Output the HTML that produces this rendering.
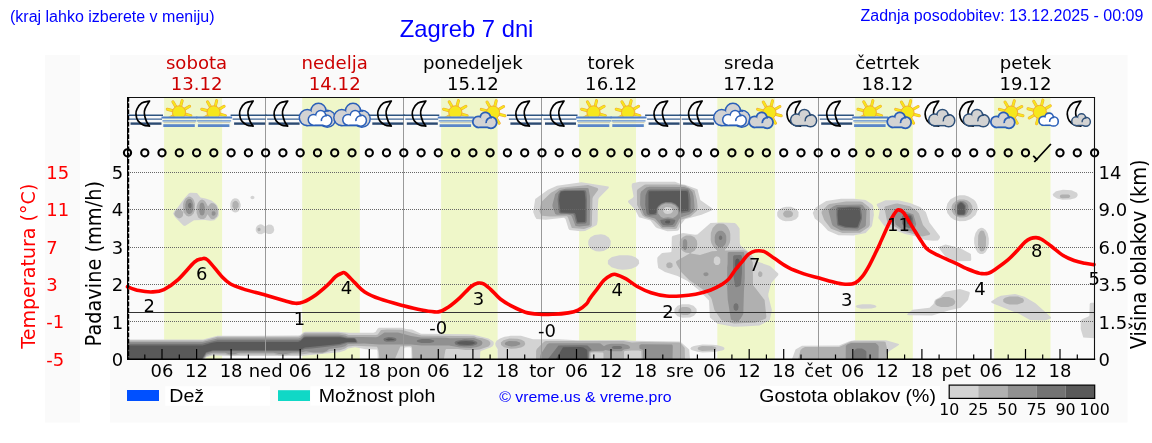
<!DOCTYPE html>
<html><head><meta charset="utf-8"><title>Zagreb 7 dni</title>
<style>
html,body{margin:0;padding:0;background:#fff;}
body{width:1152px;height:443px;overflow:hidden;}
svg{display:block;}
.dv{font-family:"DejaVu Sans","Liberation Sans",sans-serif;}
.ls{font-family:"Liberation Sans",Arial,sans-serif;}
</style></head><body>
<svg width="1152" height="443" viewBox="0 0 1152 443">
<rect x="45" y="55" width="35" height="367.5" fill="#fafafa"/>
<rect x="110" y="55" width="1017.5" height="367.5" fill="#fafafa"/>
<rect x="164.1" y="97.3" width="58.0" height="261.7" fill="#eff7c9"/>
<rect x="302.2" y="97.3" width="57.6" height="261.7" fill="#eff7c9"/>
<rect x="441.1" y="97.3" width="56.5" height="261.7" fill="#eff7c9"/>
<rect x="579.1" y="97.3" width="56.9" height="261.7" fill="#eff7c9"/>
<rect x="717.3" y="97.3" width="57.6" height="261.7" fill="#eff7c9"/>
<rect x="855.1" y="97.3" width="57.7" height="261.7" fill="#eff7c9"/>
<rect x="994.1" y="97.3" width="56.4" height="261.7" fill="#eff7c9"/>
<defs><clipPath id="plotclip"><rect x="127.5" y="97" width="967" height="262"/></clipPath></defs>
<g clip-path="url(#plotclip)"><path d="M674.5,231.1 667.5,231.2 657.0,228.1 655.5,227.0 650.5,220.6 639.0,217.2 635.0,209.4 628.5,202.7 627.9,201.5 628.5,200.5 632.5,197.9 633.6,196.5 631.7,186.5 631.8,184.5 632.5,183.3 639.5,181.8 675.0,181.8 680.7,184.0 685.0,184.7 697.5,189.3 700.3,200.0 712.0,208.3 712.7,209.5 711.6,210.5 701.5,214.7 685.0,219.2 680.9,224.5 678.7,230.0 677.5,230.7 674.5,231.1ZM585.0,231.0 580.5,231.2 569.5,230.0 568.5,228.7 565.5,219.0 564.0,217.8 545.5,219.7 536.5,219.0 534.9,216.5 533.2,212.0 535.2,199.0 548.0,189.8 557.0,185.8 581.5,182.3 608.5,186.6 608.9,187.5 608.5,188.2 599.3,197.5 598.4,199.0 597.8,207.0 597.7,220.5 597.0,224.6 596.0,225.6 585.0,231.0ZM1070.0,199.5 1062.5,199.8 1057.0,198.6 1053.5,196.3 1052.8,195.0 1052.9,194.0 1056.0,191.3 1063.0,189.7 1071.5,190.3 1077.0,192.7 1077.8,195.0 1076.8,197.0 1075.0,198.2 1070.0,199.5ZM185.0,226.0 183.3,225.5 175.0,217.0 173.1,213.5 174.7,210.5 177.6,207.5 184.2,198.5 189.0,193.2 190.5,192.8 197.0,192.9 200.5,197.4 205.5,198.4 211.5,200.5 215.5,203.4 217.3,205.5 218.8,210.0 218.7,215.5 217.9,217.0 214.5,220.3 210.5,220.7 205.0,219.9 194.0,220.3 185.0,226.0ZM965.5,221.1 959.5,221.2 954.5,219.9 950.5,217.2 947.3,213.0 946.3,208.0 947.4,203.5 950.5,199.3 955.5,196.4 959.5,195.3 962.0,195.3 964.5,195.3 968.5,196.4 974.0,199.8 975.6,201.5 977.1,204.5 977.7,207.0 977.7,210.0 975.6,215.0 971.0,219.1 965.5,221.1ZM253.5,199.1 252.0,199.2 250.8,198.5 250.4,197.5 251.0,196.3 252.5,195.7 254.2,196.5 254.5,198.0 253.5,199.1ZM236.0,212.5 234.0,212.3 232.1,211.0 231.0,209.5 230.3,207.0 230.3,203.5 230.9,201.5 232.5,199.3 234.5,198.3 236.9,198.5 238.5,199.6 239.8,201.5 240.7,204.5 240.6,206.5 239.4,210.0 238.1,211.5 236.0,212.5ZM853.5,235.6 838.5,235.2 828.0,230.8 821.5,223.8 814.8,218.5 812.7,213.0 815.7,207.5 826.1,201.0 841.0,198.8 854.0,198.8 865.5,199.9 872.0,204.3 873.2,206.0 873.9,215.0 872.0,226.0 865.7,233.0 853.5,235.6ZM938.0,240.5 933.0,240.7 925.0,240.0 914.6,236.0 905.0,234.0 884.5,226.2 878.3,218.0 879.7,210.5 876.7,205.0 876.8,204.0 885.5,200.3 898.5,200.2 910.0,203.0 920.0,207.0 925.8,212.0 929.4,222.5 940.0,236.5 939.9,238.0 938.0,240.5ZM791.5,221.0 785.5,221.3 782.5,220.5 779.5,218.8 777.8,217.0 777.2,215.5 777.2,212.5 778.2,210.5 782.0,207.8 786.0,206.7 791.0,206.8 796.5,209.2 798.6,212.0 798.4,216.5 796.0,219.2 791.5,221.0ZM737.5,209.7 736.5,209.7 736.4,209.0 737.5,209.0 737.5,209.7ZM668.8,210.5 668.3,209.5 667.1,210.0 667.5,210.7 668.8,210.5ZM743.0,326.6 733.5,326.7 717.5,323.7 709.9,317.5 709.0,300.5 698.5,289.8 687.5,280.9 677.5,275.9 665.0,272.0 658.2,268.0 657.3,261.5 657.3,258.0 657.8,257.0 662.0,253.0 670.5,252.2 671.5,251.5 671.8,237.5 672.4,236.0 683.0,233.1 695.0,234.7 697.4,234.5 710.5,222.9 721.5,222.6 734.9,223.0 736.7,224.5 739.6,228.5 739.8,243.0 740.5,245.2 743.0,247.7 747.5,250.8 758.0,261.7 770.0,266.0 778.3,273.5 778.3,275.0 771.2,283.0 768.3,294.0 768.4,296.5 771.9,310.0 769.8,320.0 759.5,325.6 743.0,326.6ZM271.0,234.1 268.0,234.1 265.0,232.4 261.5,234.3 258.5,233.9 257.0,232.8 255.9,231.0 255.7,229.0 256.3,227.0 257.5,225.4 260.0,224.3 262.0,224.5 265.0,226.4 268.5,224.4 271.5,224.8 273.5,226.6 274.3,230.0 273.3,232.5 271.0,234.1ZM983.0,254.1 980.0,254.1 977.5,252.2 975.3,248.5 974.2,243.5 974.2,238.0 975.5,233.0 978.0,229.2 981.0,227.7 983.0,227.9 985.7,230.0 987.7,233.5 988.8,238.5 988.8,244.0 987.7,248.5 985.5,252.2 983.0,254.1ZM603.5,251.0 599.5,251.5 596.0,251.2 592.1,249.5 590.1,248.0 588.4,245.0 588.2,242.0 588.6,240.0 590.5,237.2 594.5,234.9 601.0,234.2 605.0,235.0 608.8,237.5 610.8,241.0 610.5,245.5 608.0,248.8 603.5,251.0ZM970.5,261.1 956.5,261.3 954.0,260.7 945.0,256.0 939.1,248.5 938.7,247.0 945.5,244.6 960.0,247.9 970.9,254.0 971.3,259.5 970.5,261.1ZM626.5,269.5 622.5,269.8 618.0,269.3 611.5,267.2 607.9,264.0 607.9,260.5 609.5,258.7 612.0,257.1 619.5,255.2 628.0,255.2 631.5,255.8 635.5,257.3 638.8,260.0 639.2,263.5 637.0,266.3 631.5,268.7 626.5,269.5ZM934.0,315.0 932.0,315.5 909.0,315.3 907.5,315.1 907.1,314.5 908.5,312.7 912.5,309.8 929.5,307.8 933.5,304.0 934.4,301.0 935.5,299.5 940.2,297.0 945.5,291.8 960.0,289.0 969.5,292.1 969.8,293.5 968.0,300.1 960.5,307.8 948.7,310.5 934.0,315.0ZM1046.5,320.0 1044.5,320.4 1030.0,320.1 1019.5,314.0 992.5,303.2 991.3,302.5 991.1,301.5 997.5,297.3 1001.0,295.7 1015.0,294.0 1024.5,296.7 1035.5,303.2 1050.8,317.0 1051.1,318.0 1050.6,318.5 1046.5,320.0ZM1094.5,338.2 1083.3,337.5 1080.7,329.0 1080.8,320.5 1082.0,319.3 1088.5,316.4 1089.4,315.5 1089.7,304.0 1090.3,303.0 1091.5,302.7 1094.5,302.7 1094.7,303.5 1094.5,338.2ZM690.0,317.5 682.5,317.8 677.5,316.2 674.4,313.0 674.5,308.9 677.5,305.8 682.0,304.2 689.0,304.2 693.5,305.8 696.6,309.0 696.7,312.5 694.0,315.8 690.0,317.5ZM871.5,308.5 861.5,308.8 857.0,307.8 855.6,306.5 856.0,305.7 857.5,305.0 862.5,304.2 870.5,304.2 874.5,305.0 876.3,306.0 876.3,307.0 875.5,307.6 871.5,308.5ZM480.0,359.1 412.5,359.3 411.6,359.0 411.2,348.0 410.0,347.3 407.0,347.3 405.0,347.5 404.3,348.5 404.2,359.0 379.0,359.3 377.7,359.0 377.5,351.0 376.8,349.5 366.0,349.2 355.0,347.3 348.0,348.5 345.0,350.4 339.5,352.2 300.5,355.9 230.0,356.1 212.5,355.4 206.7,357.0 204.5,359.0 203.0,359.4 127.5,359.4 127.0,359.0 127.1,341.5 127.5,339.5 203.0,339.5 217.5,335.7 298.0,335.6 300.0,335.2 303.5,332.2 305.5,331.7 338.5,331.7 349.5,332.7 373.5,332.7 375.5,332.0 377.5,328.7 379.0,327.8 402.0,327.8 406.0,329.1 412.0,329.5 421.0,333.7 468.0,334.3 474.0,334.8 488.5,338.4 493.0,341.3 493.7,342.5 493.7,344.5 492.5,346.2 490.5,347.6 480.9,351.0 480.3,352.0 480.0,359.1ZM690.0,359.0 670.5,359.4 498.5,359.2 497.8,359.0 497.6,349.0 495.7,346.0 495.2,343.5 496.5,340.8 500.0,338.4 504.5,336.8 510.5,335.8 521.0,335.8 533.0,339.2 558.5,339.3 577.5,340.2 624.0,340.0 632.0,340.7 679.5,341.6 681.0,342.3 689.2,349.5 690.0,359.0ZM886.5,359.2 801.0,359.4 792.0,359.0 795.5,349.5 802.0,345.8 839.0,345.6 849.5,341.2 854.5,340.2 886.0,340.3 899.0,343.9 899.1,344.5 898.1,345.5 888.8,351.5 887.0,355.5 886.5,359.2ZM714.5,352.0 702.5,352.4 697.5,351.8 691.5,350.1 690.3,348.5 691.4,347.0 694.0,346.0 702.5,344.6 712.5,344.7 717.5,345.2 723.0,346.7 724.5,348.0 724.2,349.5 723.0,350.3 714.5,352.0Z" fill="#d3d3d3" fill-rule="evenodd"/>
<path d="M674.5,229.0 662.0,228.5 653.8,220.5 645.0,217.2 642.5,215.5 637.1,205.0 636.9,191.5 637.2,190.0 638.0,189.0 644.5,184.8 646.0,184.5 676.5,184.4 684.9,185.5 694.5,190.5 696.9,200.0 697.6,206.5 697.3,210.5 690.5,216.4 681.0,219.8 676.8,228.0 676.0,228.8 674.5,229.0ZM584.0,229.1 571.8,228.0 568.0,217.5 567.0,216.2 550.0,216.6 542.0,215.7 540.8,214.5 539.4,211.0 541.3,202.0 551.0,192.8 560.0,187.7 588.0,185.0 597.5,188.1 598.2,189.0 598.1,190.0 593.0,197.0 592.5,198.5 591.8,225.5 590.5,226.8 584.0,229.1ZM1069.0,198.1 1062.0,198.3 1060.1,197.5 1059.8,196.0 1060.5,195.1 1062.0,194.5 1068.5,194.6 1070.0,195.5 1070.3,196.5 1069.0,198.1ZM191.0,216.0 188.5,216.4 186.5,215.7 183.7,212.5 183.1,210.0 183.1,204.0 183.8,201.5 185.6,198.5 188.5,196.6 190.5,196.7 192.8,198.5 193.8,200.0 194.9,203.5 194.7,210.5 193.6,213.5 191.0,216.0ZM963.5,217.5 959.5,217.5 956.5,216.6 953.8,214.5 951.7,211.0 951.6,206.5 952.7,204.0 955.5,201.2 959.0,199.6 964.0,199.5 967.0,200.3 970.2,202.5 972.3,206.0 972.3,211.0 970.6,214.0 967.0,216.7 963.5,217.5ZM214.0,219.1 212.0,219.2 210.5,218.6 207.5,214.3 205.8,217.5 203.9,219.0 200.5,219.1 198.2,217.5 196.6,213.0 196.6,206.5 197.8,203.0 200.0,200.3 202.0,199.6 204.0,200.3 205.6,202.0 208.0,206.6 209.9,204.0 211.5,202.9 214.0,203.4 216.3,205.5 217.8,209.5 217.9,214.0 216.9,216.5 214.0,219.1ZM236.5,209.1 234.0,208.9 232.3,206.5 232.7,202.5 235.0,200.8 237.0,201.2 238.7,203.5 238.5,207.0 236.5,209.1ZM860.0,232.7 842.5,232.9 831.0,228.7 824.2,220.0 821.6,213.0 821.9,211.0 827.5,205.2 829.5,204.1 846.0,201.6 860.5,201.6 862.5,202.0 868.9,207.0 869.9,208.5 869.9,225.0 868.5,227.2 860.0,232.7ZM922.5,236.6 903.0,231.2 888.0,222.8 887.1,221.5 884.7,209.5 884.5,207.5 885.0,206.5 895.0,203.7 897.5,203.4 910.0,206.2 917.0,211.3 919.0,213.5 923.0,225.0 930.2,233.5 929.9,234.5 929.0,235.0 922.5,236.6ZM670.8,213.5 672.5,212.0 672.9,210.5 672.5,209.0 670.8,207.5 666.5,207.1 665.0,207.6 663.5,209.0 663.3,211.5 665.0,213.4 667.5,213.9 670.8,213.5ZM180.5,218.0 179.0,218.4 177.0,217.6 175.2,216.0 174.2,214.0 175.4,211.0 178.0,209.3 181.0,209.7 183.2,212.0 183.0,215.5 182.1,217.0 180.5,218.0ZM789.0,217.5 786.0,217.4 783.7,216.0 783.0,213.5 784.5,211.3 786.0,210.6 789.0,210.5 790.5,210.7 792.3,212.0 793.0,213.5 792.7,215.5 791.5,216.7 789.0,217.5ZM745.5,323.0 734.0,323.4 721.5,320.2 714.4,310.0 711.6,299.0 710.5,297.1 704.4,290.5 689.1,280.0 681.6,272.5 676.7,264.5 675.9,262.0 677.0,260.7 689.6,253.5 689.4,253.0 686.0,252.7 683.5,251.5 681.7,250.0 680.2,247.5 679.7,245.5 679.8,241.5 681.4,238.5 683.0,236.9 686.0,235.4 691.0,235.5 694.5,237.3 696.8,240.5 697.3,244.0 696.8,247.5 694.5,250.7 690.5,253.0 691.0,253.5 700.0,255.1 712.0,251.3 716.9,251.0 717.1,250.5 713.1,246.5 711.3,243.0 710.7,240.0 710.8,233.0 712.7,228.0 716.0,224.5 718.5,223.6 723.5,223.8 726.0,225.3 727.9,227.5 729.7,231.0 730.3,234.0 730.3,240.0 729.7,243.0 727.9,246.5 724.7,250.0 725.0,250.5 743.5,250.2 746.2,251.0 747.7,252.5 749.9,256.0 752.8,262.5 753.0,285.0 764.6,300.0 766.4,317.0 765.5,318.7 755.0,322.7 745.5,323.0ZM260.0,231.0 258.5,231.2 257.6,230.5 257.4,229.0 258.0,228.1 259.5,227.8 260.5,228.5 260.7,230.0 260.0,231.0ZM983.5,251.1 981.5,251.5 980.0,250.7 978.0,245.0 978.2,235.5 979.8,231.5 981.5,230.5 983.0,230.7 984.1,231.5 986.0,237.0 985.9,246.0 984.7,249.5 983.5,251.1ZM718.3,265.0 720.2,263.0 720.3,259.0 719.0,257.0 716.5,256.2 715.0,257.0 713.9,258.5 713.7,262.5 715.7,265.0 718.3,265.0ZM671.0,268.0 668.5,268.2 666.6,267.0 666.2,264.5 667.5,262.7 670.0,262.2 672.4,263.5 672.7,266.5 671.0,268.0ZM761.0,277.1 759.5,277.1 758.1,275.5 758.1,273.0 759.5,271.2 761.0,271.4 762.4,273.0 762.3,275.5 761.0,277.1ZM1017.5,304.5 1009.5,304.5 1006.0,303.6 1003.4,302.0 1003.1,299.5 1005.0,297.7 1009.5,296.5 1018.0,296.6 1023.1,298.5 1024.0,300.5 1023.2,302.5 1017.5,304.5ZM948.0,307.0 941.0,307.0 937.0,305.8 935.2,304.0 935.4,301.0 937.0,299.5 943.0,297.0 949.0,297.1 953.5,298.8 955.4,301.5 954.7,304.0 952.5,305.8 948.0,307.0ZM687.5,315.1 683.0,315.1 680.5,314.3 678.6,312.0 678.5,310.5 679.1,309.0 680.5,307.7 682.5,306.9 687.0,306.9 689.5,307.7 691.2,309.5 691.4,312.0 690.0,313.9 687.5,315.1ZM443.5,359.1 412.5,359.0 412.0,347.2 411.0,346.1 408.5,345.9 400.3,346.5 394.9,359.0 379.5,359.1 378.4,350.0 377.0,346.7 355.0,345.8 348.0,346.4 345.0,348.6 340.0,350.3 330.5,351.0 322.5,353.4 313.5,353.6 310.0,353.2 300.5,354.5 291.5,354.4 286.0,355.3 279.0,355.2 274.0,354.4 240.5,354.4 235.0,355.3 230.0,355.3 225.0,354.4 212.5,354.2 206.5,356.0 204.0,359.0 202.5,359.4 127.5,359.4 127.1,359.0 127.2,342.5 127.5,340.4 203.5,340.4 217.5,336.8 298.5,336.7 300.5,336.0 304.0,333.1 305.5,332.8 338.5,332.8 345.5,333.7 348.5,335.1 376.0,335.1 377.7,334.5 381.0,329.9 387.0,329.6 401.5,329.7 421.5,335.6 474.0,336.2 477.0,337.4 482.5,338.3 487.0,339.7 489.0,340.8 490.3,342.5 490.3,344.5 488.5,346.5 479.5,349.4 475.0,349.9 465.5,350.0 458.0,349.0 446.2,349.0 445.4,350.0 443.9,359.0 443.5,359.1ZM516.0,348.6 511.0,348.8 504.0,347.3 501.1,345.0 500.8,342.5 503.5,340.2 509.5,338.6 517.5,338.8 521.5,339.7 524.5,341.5 525.3,344.0 524.0,346.1 521.0,347.6 516.0,348.6ZM684.5,359.1 642.5,359.2 641.7,359.0 641.3,351.0 638.5,350.5 631.5,350.5 624.5,351.0 624.0,352.0 624.0,359.0 623.0,359.1 603.5,359.0 603.5,353.5 603.1,352.5 595.0,352.3 591.2,352.5 590.6,353.0 590.5,359.0 589.0,359.3 537.5,359.2 536.0,359.0 536.1,351.0 536.8,349.0 542.7,343.0 544.5,341.5 546.0,341.1 623.5,341.0 632.0,342.6 642.0,342.1 679.0,342.5 680.5,343.0 684.7,348.0 685.0,359.0 684.5,359.1ZM885.5,359.1 798.3,359.0 800.5,350.0 802.5,348.2 805.0,347.0 839.0,346.9 851.0,341.6 874.0,341.3 884.0,341.4 885.5,342.1 887.4,350.0 886.1,355.5 886.0,359.0 885.5,359.1ZM713.5,350.6 702.0,350.9 698.6,350.0 697.6,348.5 698.6,347.0 702.0,346.1 712.5,346.2 715.4,347.0 716.3,348.0 716.0,349.5 713.5,350.6Z" fill="#b0b0b0" fill-rule="evenodd"/>
<path d="M674.0,227.1 662.5,227.0 655.0,218.5 645.5,216.0 643.9,214.5 640.1,205.0 640.3,194.0 641.2,191.5 646.1,187.5 649.5,186.8 684.0,186.9 689.0,188.5 692.4,192.0 693.6,196.0 694.5,206.0 694.4,209.0 693.4,211.5 689.5,214.5 680.5,217.6 678.9,219.5 675.4,226.0 674.0,227.1ZM584.0,226.0 579.5,226.5 575.5,226.0 571.9,216.5 571.0,215.2 567.0,214.6 557.0,214.7 555.3,214.0 552.6,207.0 552.4,205.0 555.2,194.0 559.5,190.3 565.5,188.8 580.0,188.0 587.5,188.0 588.5,188.5 590.1,196.5 589.8,224.0 589.5,225.0 588.5,225.6 584.0,226.0ZM190.0,214.1 188.5,214.0 186.7,212.5 185.3,208.0 185.4,204.5 186.1,201.5 187.5,199.6 189.0,198.9 190.5,199.1 192.0,200.5 193.4,205.0 193.3,208.5 192.5,211.5 191.5,213.1 190.0,214.1ZM964.0,216.1 960.0,216.2 957.0,215.5 955.8,214.0 954.7,211.0 954.6,206.5 955.3,204.5 957.5,202.1 960.0,200.9 962.9,201.0 965.0,201.7 967.1,203.5 968.3,206.0 968.1,211.5 966.1,215.0 964.0,216.1ZM202.5,215.6 201.0,215.3 200.1,214.5 199.2,211.5 199.6,205.0 200.5,203.2 202.0,202.4 203.7,203.5 204.8,207.0 204.6,212.5 203.9,214.5 202.5,215.6ZM672.9,218.0 675.5,216.5 677.5,214.5 678.1,213.0 677.6,208.5 675.0,205.5 671.0,203.7 665.5,203.6 661.7,205.0 659.0,207.5 658.1,209.5 658.2,213.5 661.0,217.0 663.5,218.0 668.0,217.2 672.9,218.0ZM858.0,230.7 841.0,230.6 833.5,226.3 832.3,225.0 831.8,223.5 828.7,211.5 828.8,209.5 833.5,206.2 836.5,204.9 861.0,204.5 862.5,204.9 866.5,210.0 865.8,225.5 864.6,227.0 858.0,230.7ZM214.5,215.6 213.0,215.8 211.8,215.0 211.7,212.5 212.5,211.3 214.5,211.3 215.5,212.5 215.7,214.0 214.5,215.6ZM912.5,231.5 903.0,229.9 895.6,224.5 893.4,214.5 893.8,212.5 895.5,211.9 905.0,211.3 913.4,214.5 916.2,224.0 914.3,230.0 913.5,231.2 912.5,231.5ZM722.5,247.1 719.5,247.3 718.0,246.8 715.8,244.5 714.8,242.0 714.7,237.0 715.3,234.5 717.0,232.1 719.0,230.8 721.5,230.7 723.0,231.2 725.2,233.5 726.2,236.0 726.3,240.5 725.8,243.0 724.8,245.0 722.5,247.1ZM685.5,250.2 684.5,250.0 683.5,249.1 682.7,246.5 682.9,241.0 683.8,239.5 685.0,238.9 686.7,240.0 687.3,242.5 687.1,248.0 685.5,250.2ZM738.0,321.5 734.1,321.0 730.9,319.5 727.7,299.5 727.2,288.5 727.2,267.5 727.6,264.0 727.7,253.5 727.9,252.5 729.0,251.9 742.5,251.9 743.5,252.0 744.3,253.0 744.8,262.5 744.8,278.5 743.9,292.0 743.3,314.0 740.7,318.5 738.0,321.5ZM707.0,276.1 705.5,276.2 703.9,275.5 703.3,274.0 704.0,272.8 706.5,272.2 708.2,273.0 708.5,275.0 707.0,276.1ZM203.0,359.1 127.5,359.2 127.5,341.9 202.5,341.9 217.5,338.4 298.5,338.4 300.5,337.7 304.0,334.7 305.5,334.4 338.5,334.4 345.0,335.5 348.0,336.7 376.0,337.2 378.0,336.7 384.5,332.6 398.0,332.5 411.0,335.9 421.0,337.4 446.0,337.7 450.0,338.2 474.0,338.1 481.0,340.6 482.0,341.5 482.5,343.0 481.6,345.0 479.5,346.2 476.0,347.3 471.0,347.9 460.0,347.6 449.0,345.5 421.5,345.5 411.0,344.5 379.5,344.5 364.5,343.4 348.0,343.9 345.0,346.2 341.5,347.2 329.0,348.9 326.5,351.2 322.5,352.4 313.5,352.5 306.0,351.2 300.5,352.6 292.0,352.7 286.0,354.1 279.0,354.0 273.5,352.7 240.0,352.7 238.0,352.9 235.5,354.1 233.0,354.3 229.0,354.2 225.0,352.7 212.5,352.7 206.5,354.5 203.0,359.1ZM516.0,346.1 511.5,346.4 508.6,346.0 505.5,345.0 504.7,343.5 505.9,342.0 509.0,341.1 516.5,341.2 519.8,342.5 520.3,343.5 520.0,344.5 516.0,346.1ZM878.5,359.0 845.7,359.0 845.8,346.0 847.2,344.5 851.0,342.9 875.6,343.0 877.9,345.0 878.7,346.5 878.5,359.0ZM589.0,359.1 541.0,359.1 540.2,359.0 540.2,356.0 540.9,354.0 547.0,344.5 549.0,343.3 599.0,343.2 600.5,343.6 604.0,346.2 606.5,344.8 611.0,343.7 622.5,343.7 628.0,345.0 630.1,347.0 630.0,348.0 629.0,348.8 624.0,349.5 621.5,351.3 611.5,351.3 605.5,349.9 603.5,350.8 594.0,350.9 590.5,351.4 589.4,352.5 589.0,359.1ZM672.5,359.0 643.1,359.0 642.9,350.5 642.5,349.8 639.4,348.5 639.3,345.5 640.0,344.7 641.5,344.3 671.8,344.5 672.5,345.1 672.8,346.5 672.5,359.0Z" fill="#909090" fill-rule="evenodd"/>
<path d="M585.0,223.6 577.0,223.7 576.1,222.5 574.2,215.0 572.9,214.0 560.5,213.5 558.9,212.5 557.6,199.5 558.4,194.5 560.5,191.0 564.5,190.2 583.5,190.0 585.6,190.5 586.3,192.0 586.9,199.5 586.8,221.0 586.2,223.0 585.0,223.6ZM656.5,215.1 649.5,215.4 647.3,214.5 646.6,213.5 645.2,205.0 645.5,195.5 647.0,191.5 648.0,190.1 650.0,189.5 685.5,189.5 687.5,189.6 688.5,190.2 689.8,194.0 690.5,199.0 690.5,210.0 689.8,211.5 688.0,212.3 680.5,213.5 679.2,211.5 678.3,207.5 675.4,204.5 671.0,202.7 665.5,202.6 661.0,204.2 658.0,207.1 657.2,209.0 656.5,215.1ZM964.0,215.1 958.0,215.0 956.8,213.5 956.2,210.0 956.5,205.5 958.6,203.0 960.5,201.8 963.1,202.5 965.8,205.5 965.8,212.5 965.0,214.5 964.0,215.1ZM190.5,208.2 189.0,208.1 187.9,206.0 188.2,204.0 189.5,202.7 190.8,203.0 191.6,204.5 191.5,206.9 190.5,208.2ZM856.0,228.5 845.0,227.9 837.5,225.4 837.0,224.0 836.4,215.0 836.4,208.5 836.9,207.5 838.5,207.0 850.0,206.6 859.0,206.6 860.6,207.0 862.0,215.5 861.9,219.0 858.8,227.5 857.5,228.4 856.0,228.5ZM911.0,227.7 909.0,227.9 905.0,227.0 902.6,224.5 902.0,223.5 902.0,216.0 905.1,214.5 907.5,214.1 910.0,214.6 912.0,215.8 912.9,218.0 913.4,223.5 912.5,225.9 911.0,227.7ZM672.5,225.0 667.5,225.4 663.0,225.0 661.0,222.7 660.2,220.0 667.5,218.7 675.0,219.8 675.4,220.5 674.5,223.0 672.5,225.0ZM721.0,240.0 719.5,239.7 718.7,238.0 719.4,236.0 720.5,235.4 721.6,236.0 722.3,237.5 722.1,239.0 721.0,240.0ZM737.0,287.1 736.0,287.2 735.2,286.5 733.1,274.0 733.1,256.5 734.0,255.2 740.5,255.1 741.5,255.5 741.9,257.0 741.9,273.5 740.9,284.5 740.0,286.0 737.0,287.1ZM736.0,311.0 734.0,309.8 733.4,307.0 734.0,304.2 736.0,303.0 738.0,304.2 738.6,307.0 738.0,309.8 736.0,311.0ZM202.5,359.1 127.5,359.1 127.5,343.8 202.0,343.8 217.5,340.3 298.5,340.3 300.5,339.7 304.0,336.5 306.0,336.2 340.5,336.3 347.5,337.7 354.5,337.9 355.6,338.5 357.4,341.5 357.2,342.5 356.5,342.7 347.5,342.8 339.5,345.2 312.0,348.6 305.0,348.9 299.0,351.2 212.5,351.3 206.5,353.0 202.5,359.1ZM394.0,341.6 386.5,341.7 384.3,341.0 383.4,339.5 384.0,338.3 385.5,337.7 388.5,337.1 392.5,337.3 395.4,338.0 396.5,339.0 396.0,340.8 394.0,341.6ZM430.0,343.0 421.5,343.1 417.5,342.0 416.7,341.0 417.5,340.0 422.0,339.0 429.1,339.0 434.2,340.5 434.2,341.5 433.5,342.0 430.0,343.0ZM470.0,346.0 464.5,346.3 459.0,345.8 455.3,344.5 454.5,342.5 455.2,341.5 457.0,340.7 464.5,339.6 473.0,340.1 477.2,342.0 477.4,343.5 476.5,344.6 473.0,345.8 470.0,346.0ZM588.0,359.1 548.0,359.0 558.5,345.5 581.5,345.3 587.5,345.5 591.5,349.5 591.4,350.0 588.7,351.5 588.4,359.0 588.0,359.1ZM620.0,349.0 614.0,349.0 612.5,348.5 611.7,347.5 612.5,346.5 614.0,346.0 620.0,346.0 621.5,346.5 622.3,347.5 621.5,348.5 620.0,349.0ZM866.0,359.0 853.6,359.0 854.0,350.9 855.5,349.3 857.0,348.6 862.0,348.6 864.0,349.4 866.0,351.0 866.4,352.0 866.4,359.0 866.0,359.0Z" fill="#737373" fill-rule="evenodd"/>
<path d="M654.0,214.0 650.0,214.1 649.0,213.0 648.5,207.5 648.5,192.5 649.0,191.2 685.5,191.0 687.7,191.5 688.5,200.0 688.5,209.5 688.0,210.8 680.5,211.4 679.9,211.0 678.7,207.0 675.5,203.8 671.5,202.1 665.5,202.0 661.5,203.2 658.1,206.0 656.6,208.5 656.2,213.0 654.0,214.0ZM585.0,222.1 577.5,222.2 575.4,214.0 574.5,213.1 560.5,212.5 559.0,200.0 559.8,194.0 561.0,191.6 564.5,191.1 583.0,191.1 584.6,191.5 585.5,200.0 585.4,220.5 585.0,222.1ZM963.5,214.5 958.8,214.5 957.5,213.5 957.3,206.0 959.3,203.5 961.0,202.5 962.7,203.5 964.8,206.0 964.8,213.0 964.4,214.0 963.5,214.5ZM857.5,227.1 855.0,227.4 845.5,226.8 838.5,224.5 837.6,215.0 837.9,208.5 850.0,207.6 859.5,207.9 860.8,218.0 857.5,227.1ZM909.5,224.5 907.5,224.0 906.4,221.5 906.6,217.5 907.5,216.0 908.5,215.5 910.5,216.1 911.6,218.5 911.4,222.5 910.5,224.0 909.5,224.5ZM669.0,223.5 666.0,223.3 665.2,222.5 665.1,221.5 666.5,220.4 669.5,220.6 670.5,222.0 669.0,223.5ZM738.0,269.5 737.0,269.5 736.0,268.8 735.1,266.0 735.3,260.5 736.2,259.0 737.5,258.4 739.2,259.5 739.9,262.0 739.7,267.5 738.0,269.5ZM202.0,359.0 127.5,359.1 127.5,345.5 202.5,345.4 212.0,342.7 217.0,342.0 298.0,341.9 300.5,341.1 304.0,337.6 306.0,337.3 340.5,337.3 347.0,338.4 354.0,338.5 355.0,339.1 356.3,341.5 355.5,342.0 347.0,342.1 339.0,343.9 305.0,347.5 299.0,350.2 213.0,350.3 206.0,352.3 202.0,359.0ZM394.0,340.1 388.0,340.5 385.3,339.5 388.5,338.6 391.0,338.5 394.7,339.5 394.0,340.1ZM468.0,345.0 459.6,344.5 456.4,343.0 459.5,341.5 466.0,340.9 472.5,341.5 475.6,343.0 472.5,344.5 468.0,345.0ZM587.0,359.0 556.1,359.0 563.0,347.3 580.5,347.0 583.5,347.4 587.2,350.0 587.4,359.0 587.0,359.0Z" fill="#595959" fill-rule="evenodd"/></g>
<line x1="128" y1="321.5" x2="1094" y2="321.5" stroke="#666" stroke-width="1" stroke-dasharray="1 1"/>
<line x1="128" y1="284.5" x2="1094" y2="284.5" stroke="#666" stroke-width="1" stroke-dasharray="1 1"/>
<line x1="128" y1="247.5" x2="1094" y2="247.5" stroke="#666" stroke-width="1" stroke-dasharray="1 1"/>
<line x1="128" y1="209.5" x2="1094" y2="209.5" stroke="#666" stroke-width="1" stroke-dasharray="1 1"/>
<line x1="128" y1="172.5" x2="1094" y2="172.5" stroke="#666" stroke-width="1" stroke-dasharray="1 1"/>
<line x1="265.5" y1="97.3" x2="265.5" y2="359.0" stroke="#999" stroke-width="1"/>
<line x1="403.5" y1="97.3" x2="403.5" y2="359.0" stroke="#999" stroke-width="1"/>
<line x1="541.5" y1="97.3" x2="541.5" y2="359.0" stroke="#999" stroke-width="1"/>
<line x1="680.5" y1="97.3" x2="680.5" y2="359.0" stroke="#999" stroke-width="1"/>
<line x1="818.5" y1="97.3" x2="818.5" y2="359.0" stroke="#999" stroke-width="1"/>
<line x1="956.5" y1="97.3" x2="956.5" y2="359.0" stroke="#999" stroke-width="1"/>
<line x1="127.5" y1="312.5" x2="1094.5500000000002" y2="312.5" stroke="#333" stroke-width="1.1"/>
<path d="M127.5,286.7 C129.4,287.4 134.7,289.7 138.9,290.6 C143.1,291.5 148.6,292.1 152.8,291.9 C157.0,291.7 159.7,291.6 163.9,289.6 C168.1,287.6 172.7,284.5 177.8,279.9 C182.9,275.3 190.5,265.7 194.4,262.2 C198.3,258.7 199.2,259.4 201.4,259.0 C203.6,258.6 204.1,257.0 207.6,260.0 C211.1,263.0 218.4,273.1 222.2,277.1 C226.0,281.1 227.1,282.0 230.6,284.0 C234.1,286.0 237.2,287.0 243.0,288.9 C248.8,290.8 258.4,293.1 265.3,295.1 C272.2,297.1 279.7,299.3 284.7,300.7 C289.7,302.1 292.1,303.1 295.3,303.3 C298.5,303.5 300.1,303.3 303.6,301.9 C307.1,300.5 312.2,297.4 316.1,294.7 C320.0,291.9 323.9,288.4 327.2,285.4 C330.4,282.4 333.3,278.7 335.6,276.7 C337.9,274.7 339.5,274.1 341.1,273.5 C342.7,272.9 343.0,271.6 345.3,273.2 C347.6,274.8 351.8,279.8 355.0,282.9 C358.2,286.0 360.5,289.2 364.7,291.9 C368.9,294.6 373.5,296.6 380.0,298.9 C386.5,301.2 396.7,303.9 403.6,305.8 C410.6,307.7 415.9,309.0 421.7,310.0 C427.5,311.0 433.8,312.4 438.3,311.9 C442.8,311.3 445.3,309.1 448.9,306.7 C452.5,304.3 456.3,301.0 460.0,297.6 C463.7,294.2 468.1,288.9 471.1,286.5 C474.1,284.1 476.0,283.6 478.1,283.1 C480.2,282.7 481.5,282.8 483.6,283.8 C485.7,284.8 487.8,286.8 490.6,289.3 C493.4,291.8 496.6,296.1 500.3,299.0 C504.0,301.9 508.6,304.5 512.8,306.7 C517.0,308.9 520.9,310.9 525.3,312.2 C529.7,313.5 534.6,313.9 539.2,314.3 C543.8,314.7 548.1,314.5 553.0,314.3 C557.9,314.1 564.1,313.6 568.3,312.9 C572.5,312.2 575.1,311.6 578.1,310.1 C581.1,308.6 584.4,305.9 586.4,303.9 C588.4,301.9 588.2,300.7 590.0,298.3 C591.8,295.9 594.6,292.3 596.9,289.3 C599.2,286.3 601.6,282.6 603.9,280.3 C606.2,278.0 608.8,276.4 610.8,275.4 C612.8,274.4 613.2,273.8 615.7,274.4 C618.2,275.0 622.5,276.9 626.1,278.9 C629.7,280.9 633.0,284.2 637.2,286.5 C641.4,288.8 646.2,291.2 651.1,292.8 C656.0,294.4 661.5,295.5 666.4,296.0 C671.3,296.5 675.4,296.3 680.3,296.0 C685.2,295.7 690.5,295.2 695.6,294.2 C700.7,293.2 706.4,291.6 710.8,290.0 C715.2,288.4 718.9,286.2 721.9,284.4 C724.9,282.5 726.6,281.4 728.9,278.9 C731.2,276.4 733.5,272.2 735.8,269.2 C738.1,266.2 740.7,263.3 742.8,260.8 C744.9,258.3 746.2,256.0 748.3,254.4 C750.4,252.8 752.6,251.4 755.3,251.0 C758.0,250.6 761.1,250.4 764.3,251.7 C767.5,253.0 770.7,256.0 774.7,258.6 C778.8,261.2 783.7,265.1 788.6,267.6 C793.5,270.2 798.8,272.1 803.9,273.9 C809.0,275.6 813.7,276.6 819.2,278.1 C824.8,279.6 832.6,281.9 837.2,282.9 C841.8,283.9 843.9,284.3 846.9,284.3 C849.9,284.3 852.8,284.2 855.3,282.9 C857.8,281.6 859.9,279.6 862.2,276.7 C864.5,273.8 866.9,269.8 869.2,265.6 C871.5,261.4 874.3,255.4 876.1,251.7 C877.9,248.0 877.9,248.1 880.0,243.4 C882.1,238.7 886.6,228.5 889.0,223.5 C891.4,218.5 893.0,215.9 894.5,213.6 C896.0,211.3 896.6,210.1 898.1,209.9 C899.6,209.8 901.1,209.8 903.5,212.7 C905.9,215.6 909.5,222.3 912.5,227.1 C915.5,231.9 919.0,237.8 921.6,241.6 C924.2,245.4 924.9,247.3 927.9,249.7 C930.9,252.1 934.9,253.7 939.6,256.0 C944.3,258.3 951.4,261.2 955.9,263.3 C960.4,265.4 962.9,267.1 966.8,268.7 C970.7,270.3 975.8,272.4 979.4,273.2 C983.0,273.9 985.5,274.0 988.4,273.2 C991.3,272.4 993.6,270.5 996.8,268.3 C1000.0,266.1 1004.2,263.1 1007.6,260.2 C1011.0,257.3 1014.2,253.8 1017.1,250.7 C1020.0,247.6 1023.0,243.9 1025.2,241.9 C1027.5,239.9 1028.8,239.2 1030.6,238.5 C1032.4,237.8 1034.3,237.5 1036.1,237.6 C1037.9,237.7 1039.0,237.8 1041.5,239.2 C1044.0,240.6 1047.4,243.3 1051.0,246.0 C1054.6,248.7 1059.4,253.1 1063.2,255.5 C1067.0,257.9 1070.4,259.2 1074.0,260.5 C1077.6,261.8 1081.5,262.6 1084.8,263.3 C1088.1,264.0 1092.5,264.4 1094.0,264.6" fill="none" stroke="#ff0000" stroke-width="3.6" stroke-linejoin="round" stroke-linecap="round"/>
<text transform="translate(149.20,311.80) scale(1.06,1)" class="dv" font-size="17" text-anchor="middle" fill="#000">2</text>
<text transform="translate(201.70,280.30) scale(1.06,1)" class="dv" font-size="17" text-anchor="middle" fill="#000">6</text>
<text transform="translate(299.40,324.60) scale(1.06,1)" class="dv" font-size="17" text-anchor="middle" fill="#000">1</text>
<text transform="translate(346.50,294.10) scale(1.06,1)" class="dv" font-size="17" text-anchor="middle" fill="#000">4</text>
<text transform="translate(438.30,334.00) scale(1.06,1)" class="dv" font-size="17" text-anchor="middle" fill="#000">-0</text>
<text transform="translate(478.50,304.50) scale(1.06,1)" class="dv" font-size="17" text-anchor="middle" fill="#000">3</text>
<text transform="translate(547.00,336.70) scale(1.06,1)" class="dv" font-size="17" text-anchor="middle" fill="#000">-0</text>
<text transform="translate(617.30,296.00) scale(1.06,1)" class="dv" font-size="17" text-anchor="middle" fill="#000">4</text>
<text transform="translate(668.00,318.30) scale(1.06,1)" class="dv" font-size="17" text-anchor="middle" fill="#000">2</text>
<text transform="translate(754.80,271.30) scale(1.06,1)" class="dv" font-size="17" text-anchor="middle" fill="#000">7</text>
<text transform="translate(846.70,306.00) scale(1.06,1)" class="dv" font-size="17" text-anchor="middle" fill="#000">3</text>
<text transform="translate(898.40,231.40) scale(1.06,1)" class="dv" font-size="17" text-anchor="middle" fill="#000">11</text>
<text transform="translate(979.90,295.40) scale(1.06,1)" class="dv" font-size="17" text-anchor="middle" fill="#000">4</text>
<text transform="translate(1036.60,257.40) scale(1.06,1)" class="dv" font-size="17" text-anchor="middle" fill="#000">8</text>
<text transform="translate(1094.10,284.90) scale(1.06,1)" class="dv" font-size="17" text-anchor="middle" fill="#000">5</text>
<defs><clipPath id="sunclip"><rect x="0" y="90" width="1152" height="26.8"/></clipPath></defs>
<line x1="127.0" y1="115.3" x2="163.0" y2="115.3" stroke="#2e5480" stroke-width="1.5"/><line x1="129.0" y1="119.1" x2="162.0" y2="119.1" stroke="#3d6595" stroke-width="1.1"/><line x1="130.5" y1="123.6" x2="161.5" y2="123.6" stroke="#2b4a72" stroke-width="2.4"/>
<path d="M149.55,101.10 C148.25,101.42 143.82,101.72 141.75,103.00 C139.68,104.28 138.07,106.95 137.10,108.80 C136.13,110.65 135.81,112.10 135.95,114.10 C136.09,116.10 136.73,119.00 137.95,120.80 C139.17,122.60 141.32,124.02 143.25,124.90 C145.18,125.78 148.50,125.90 149.55,126.10 C149.05,125.35 147.41,123.60 146.55,121.60 C145.69,119.60 144.65,116.22 144.40,114.10 C144.15,111.98 144.19,111.07 145.05,108.90 C145.91,106.73 148.80,102.40 149.55,101.10Z" fill="none" stroke="#000" stroke-width="1.7" stroke-linejoin="round"/>
<g clip-path="url(#sunclip)"><line x1="184.9" y1="114.0" x2="190.8" y2="115.6" stroke="#f2a531" stroke-width="3.0" stroke-linecap="round"/><line x1="184.3" y1="109.4" x2="189.6" y2="106.3" stroke="#f2a531" stroke-width="3.0" stroke-linecap="round"/><line x1="180.6" y1="106.5" x2="182.2" y2="100.6" stroke="#f2a531" stroke-width="3.0" stroke-linecap="round"/><line x1="176.0" y1="107.1" x2="172.9" y2="101.8" stroke="#f2a531" stroke-width="3.0" stroke-linecap="round"/><line x1="173.1" y1="110.8" x2="167.3" y2="109.2" stroke="#f2a531" stroke-width="3.0" stroke-linecap="round"/><line x1="173.8" y1="115.5" x2="168.5" y2="118.5" stroke="#f2a531" stroke-width="3.0" stroke-linecap="round"/><line x1="177.5" y1="118.3" x2="175.9" y2="124.2" stroke="#f2a531" stroke-width="3.0" stroke-linecap="round"/><line x1="182.1" y1="117.7" x2="185.1" y2="123.0" stroke="#f2a531" stroke-width="3.0" stroke-linecap="round"/><line x1="184.9" y1="114.0" x2="190.8" y2="115.6" stroke="#f6e71c" stroke-width="2.0" stroke-linecap="round"/><line x1="184.3" y1="109.4" x2="189.6" y2="106.3" stroke="#f6e71c" stroke-width="2.0" stroke-linecap="round"/><line x1="180.6" y1="106.5" x2="182.2" y2="100.6" stroke="#f6e71c" stroke-width="2.0" stroke-linecap="round"/><line x1="176.0" y1="107.1" x2="172.9" y2="101.8" stroke="#f6e71c" stroke-width="2.0" stroke-linecap="round"/><line x1="173.1" y1="110.8" x2="167.3" y2="109.2" stroke="#f6e71c" stroke-width="2.0" stroke-linecap="round"/><line x1="173.8" y1="115.5" x2="168.5" y2="118.5" stroke="#f6e71c" stroke-width="2.0" stroke-linecap="round"/><line x1="177.5" y1="118.3" x2="175.9" y2="124.2" stroke="#f6e71c" stroke-width="2.0" stroke-linecap="round"/><line x1="182.1" y1="117.7" x2="185.1" y2="123.0" stroke="#f6e71c" stroke-width="2.0" stroke-linecap="round"/><circle cx="179.0" cy="112.4" r="6.6" fill="#f6e71c" stroke="#f2a531" stroke-width="0.9"/></g>
<rect x="162.0" y="116.6" width="34.6" height="10.6" fill="#f4f8e6" opacity="0.6"/><line x1="161.5" y1="117.6" x2="197.5" y2="117.6" stroke="#4f7fc8" stroke-width="2"/><line x1="162.5" y1="120.8" x2="196.5" y2="120.8" stroke="#5b8bd0" stroke-width="1.3"/><line x1="163.5" y1="122.6" x2="195.5" y2="122.6" stroke="#c9c9b8" stroke-width="1"/><line x1="163.3" y1="125.6" x2="194.8" y2="125.6" stroke="#5a86c8" stroke-width="2.8"/>
<g clip-path="url(#sunclip)"><line x1="219.5" y1="114.0" x2="225.4" y2="115.6" stroke="#f2a531" stroke-width="3.0" stroke-linecap="round"/><line x1="218.9" y1="109.4" x2="224.1" y2="106.3" stroke="#f2a531" stroke-width="3.0" stroke-linecap="round"/><line x1="215.2" y1="106.5" x2="216.7" y2="100.6" stroke="#f2a531" stroke-width="3.0" stroke-linecap="round"/><line x1="210.5" y1="107.1" x2="207.5" y2="101.8" stroke="#f2a531" stroke-width="3.0" stroke-linecap="round"/><line x1="207.7" y1="110.8" x2="201.8" y2="109.2" stroke="#f2a531" stroke-width="3.0" stroke-linecap="round"/><line x1="208.3" y1="115.5" x2="203.0" y2="118.5" stroke="#f2a531" stroke-width="3.0" stroke-linecap="round"/><line x1="212.0" y1="118.3" x2="210.4" y2="124.2" stroke="#f2a531" stroke-width="3.0" stroke-linecap="round"/><line x1="216.6" y1="117.7" x2="219.7" y2="123.0" stroke="#f2a531" stroke-width="3.0" stroke-linecap="round"/><line x1="219.5" y1="114.0" x2="225.4" y2="115.6" stroke="#f6e71c" stroke-width="2.0" stroke-linecap="round"/><line x1="218.9" y1="109.4" x2="224.1" y2="106.3" stroke="#f6e71c" stroke-width="2.0" stroke-linecap="round"/><line x1="215.2" y1="106.5" x2="216.7" y2="100.6" stroke="#f6e71c" stroke-width="2.0" stroke-linecap="round"/><line x1="210.5" y1="107.1" x2="207.5" y2="101.8" stroke="#f6e71c" stroke-width="2.0" stroke-linecap="round"/><line x1="207.7" y1="110.8" x2="201.8" y2="109.2" stroke="#f6e71c" stroke-width="2.0" stroke-linecap="round"/><line x1="208.3" y1="115.5" x2="203.0" y2="118.5" stroke="#f6e71c" stroke-width="2.0" stroke-linecap="round"/><line x1="212.0" y1="118.3" x2="210.4" y2="124.2" stroke="#f6e71c" stroke-width="2.0" stroke-linecap="round"/><line x1="216.6" y1="117.7" x2="219.7" y2="123.0" stroke="#f6e71c" stroke-width="2.0" stroke-linecap="round"/><circle cx="213.6" cy="112.4" r="6.6" fill="#f6e71c" stroke="#f2a531" stroke-width="0.9"/></g>
<rect x="196.6" y="116.6" width="34.6" height="10.6" fill="#f4f8e6" opacity="0.6"/><line x1="196.1" y1="117.6" x2="232.1" y2="117.6" stroke="#4f7fc8" stroke-width="2"/><line x1="197.1" y1="120.8" x2="231.1" y2="120.8" stroke="#5b8bd0" stroke-width="1.3"/><line x1="198.1" y1="122.6" x2="230.1" y2="122.6" stroke="#c9c9b8" stroke-width="1"/><line x1="197.9" y1="125.6" x2="229.4" y2="125.6" stroke="#5a86c8" stroke-width="2.8"/>
<line x1="230.6" y1="115.3" x2="266.6" y2="115.3" stroke="#2e5480" stroke-width="1.5"/><line x1="232.6" y1="119.1" x2="265.6" y2="119.1" stroke="#3d6595" stroke-width="1.1"/><line x1="234.1" y1="123.6" x2="265.1" y2="123.6" stroke="#2b4a72" stroke-width="2.4"/>
<path d="M253.16,101.10 C251.86,101.42 247.44,101.72 245.36,103.00 C243.29,104.28 241.68,106.95 240.71,108.80 C239.75,110.65 239.42,112.10 239.56,114.10 C239.70,116.10 240.35,119.00 241.56,120.80 C242.78,122.60 244.93,124.02 246.86,124.90 C248.80,125.78 252.11,125.90 253.16,126.10 C252.66,125.35 251.02,123.60 250.16,121.60 C249.30,119.60 248.26,116.22 248.01,114.10 C247.76,111.98 247.80,111.07 248.66,108.90 C249.52,106.73 252.41,102.40 253.16,101.10Z" fill="none" stroke="#000" stroke-width="1.7" stroke-linejoin="round"/>
<line x1="265.1" y1="115.3" x2="301.1" y2="115.3" stroke="#2e5480" stroke-width="1.5"/><line x1="267.1" y1="119.1" x2="300.1" y2="119.1" stroke="#3d6595" stroke-width="1.1"/><line x1="268.6" y1="123.6" x2="299.6" y2="123.6" stroke="#2b4a72" stroke-width="2.4"/>
<path d="M287.70,101.10 C286.40,101.42 281.97,101.72 279.90,103.00 C277.82,104.28 276.22,106.95 275.25,108.80 C274.28,110.65 273.96,112.10 274.10,114.10 C274.24,116.10 274.88,119.00 276.10,120.80 C277.32,122.60 279.47,124.02 281.40,124.90 C283.33,125.78 286.65,125.90 287.70,126.10 C287.20,125.35 285.56,123.60 284.70,121.60 C283.84,119.60 282.80,116.22 282.55,114.10 C282.30,111.98 282.34,111.07 283.20,108.90 C284.06,106.73 286.95,102.40 287.70,101.10Z" fill="none" stroke="#000" stroke-width="1.7" stroke-linejoin="round"/>
<circle cx="307.25" cy="117.59" r="7.24" fill="#2a5fb8" stroke="#2a5fb8" stroke-width="3.00"/><circle cx="318.47" cy="110.78" r="6.82" fill="#2a5fb8" stroke="#2a5fb8" stroke-width="3.00"/><circle cx="327.28" cy="118.73" r="7.67" fill="#2a5fb8" stroke="#2a5fb8" stroke-width="3.00"/><rect x="307.25" y="120.59" width="20.02" height="4.24" fill="#2a5fb8" stroke="#2a5fb8" stroke-width="3.00"/><circle cx="307.25" cy="117.59" r="7.24" fill="#d3d3d3"/><circle cx="318.47" cy="110.78" r="6.82" fill="#d3d3d3"/><circle cx="327.28" cy="118.73" r="7.67" fill="#d3d3d3"/><rect x="307.25" y="115.18" width="20.02" height="9.66" fill="#d3d3d3"/><path d="M319.61,119.72 A7.67,7.67 0 0 1 328.70,111.20" fill="none" stroke="#2a5fb8" stroke-width="1.50"/>
<circle cx="313.56" cy="119.83" r="4.59" fill="#2a5fb8" stroke="#2a5fb8" stroke-width="3.00"/><circle cx="320.67" cy="115.51" r="4.32" fill="#2a5fb8" stroke="#2a5fb8" stroke-width="3.00"/><circle cx="326.25" cy="120.55" r="4.86" fill="#2a5fb8" stroke="#2a5fb8" stroke-width="3.00"/><rect x="313.56" y="122.83" width="12.69" height="1.59" fill="#2a5fb8" stroke="#2a5fb8" stroke-width="3.00"/><circle cx="313.56" cy="119.83" r="4.59" fill="#ffffff"/><circle cx="320.67" cy="115.51" r="4.32" fill="#ffffff"/><circle cx="326.25" cy="120.55" r="4.86" fill="#ffffff"/><rect x="313.56" y="118.30" width="12.69" height="6.12" fill="#ffffff"/><path d="M321.39,121.18 A4.86,4.86 0 0 1 327.15,115.78" fill="none" stroke="#2a5fb8" stroke-width="1.50"/>
<circle cx="341.79" cy="117.59" r="7.24" fill="#2a5fb8" stroke="#2a5fb8" stroke-width="3.00"/><circle cx="353.01" cy="110.78" r="6.82" fill="#2a5fb8" stroke="#2a5fb8" stroke-width="3.00"/><circle cx="361.81" cy="118.73" r="7.67" fill="#2a5fb8" stroke="#2a5fb8" stroke-width="3.00"/><rect x="341.79" y="120.59" width="20.02" height="4.24" fill="#2a5fb8" stroke="#2a5fb8" stroke-width="3.00"/><circle cx="341.79" cy="117.59" r="7.24" fill="#d3d3d3"/><circle cx="353.01" cy="110.78" r="6.82" fill="#d3d3d3"/><circle cx="361.81" cy="118.73" r="7.67" fill="#d3d3d3"/><rect x="341.79" y="115.18" width="20.02" height="9.66" fill="#d3d3d3"/><path d="M354.15,119.72 A7.67,7.67 0 0 1 363.23,111.20" fill="none" stroke="#2a5fb8" stroke-width="1.50"/>
<circle cx="348.10" cy="119.83" r="4.59" fill="#2a5fb8" stroke="#2a5fb8" stroke-width="3.00"/><circle cx="355.21" cy="115.51" r="4.32" fill="#2a5fb8" stroke="#2a5fb8" stroke-width="3.00"/><circle cx="360.79" cy="120.55" r="4.86" fill="#2a5fb8" stroke="#2a5fb8" stroke-width="3.00"/><rect x="348.10" y="122.83" width="12.69" height="1.59" fill="#2a5fb8" stroke="#2a5fb8" stroke-width="3.00"/><circle cx="348.10" cy="119.83" r="4.59" fill="#ffffff"/><circle cx="355.21" cy="115.51" r="4.32" fill="#ffffff"/><circle cx="360.79" cy="120.55" r="4.86" fill="#ffffff"/><rect x="348.10" y="118.30" width="12.69" height="6.12" fill="#ffffff"/><path d="M355.93,121.18 A4.86,4.86 0 0 1 361.69,115.78" fill="none" stroke="#2a5fb8" stroke-width="1.50"/>
<line x1="368.8" y1="115.3" x2="404.8" y2="115.3" stroke="#2e5480" stroke-width="1.5"/><line x1="370.8" y1="119.1" x2="403.8" y2="119.1" stroke="#3d6595" stroke-width="1.1"/><line x1="372.3" y1="123.6" x2="403.3" y2="123.6" stroke="#2b4a72" stroke-width="2.4"/>
<path d="M391.31,101.10 C390.01,101.42 385.59,101.72 383.51,103.00 C381.44,104.28 379.83,106.95 378.86,108.80 C377.90,110.65 377.57,112.10 377.71,114.10 C377.85,116.10 378.50,119.00 379.71,120.80 C380.93,122.60 383.08,124.02 385.01,124.90 C386.95,125.78 390.26,125.90 391.31,126.10 C390.81,125.35 389.17,123.60 388.31,121.60 C387.45,119.60 386.41,116.22 386.16,114.10 C385.91,111.98 385.95,111.07 386.81,108.90 C387.67,106.73 390.56,102.40 391.31,101.10Z" fill="none" stroke="#000" stroke-width="1.7" stroke-linejoin="round"/>
<line x1="403.3" y1="115.3" x2="439.3" y2="115.3" stroke="#2e5480" stroke-width="1.5"/><line x1="405.3" y1="119.1" x2="438.3" y2="119.1" stroke="#3d6595" stroke-width="1.1"/><line x1="406.8" y1="123.6" x2="437.8" y2="123.6" stroke="#2b4a72" stroke-width="2.4"/>
<path d="M425.85,101.10 C424.55,101.42 420.12,101.72 418.05,103.00 C415.98,104.28 414.37,106.95 413.40,108.80 C412.43,110.65 412.11,112.10 412.25,114.10 C412.39,116.10 413.03,119.00 414.25,120.80 C415.47,122.60 417.62,124.02 419.55,124.90 C421.48,125.78 424.80,125.90 425.85,126.10 C425.35,125.35 423.71,123.60 422.85,121.60 C421.99,119.60 420.95,116.22 420.70,114.10 C420.45,111.98 420.49,111.07 421.35,108.90 C422.21,106.73 425.10,102.40 425.85,101.10Z" fill="none" stroke="#000" stroke-width="1.7" stroke-linejoin="round"/>
<g clip-path="url(#sunclip)"><line x1="461.2" y1="114.0" x2="467.1" y2="115.6" stroke="#f2a531" stroke-width="3.0" stroke-linecap="round"/><line x1="460.6" y1="109.4" x2="465.9" y2="106.3" stroke="#f2a531" stroke-width="3.0" stroke-linecap="round"/><line x1="456.9" y1="106.5" x2="458.5" y2="100.6" stroke="#f2a531" stroke-width="3.0" stroke-linecap="round"/><line x1="452.3" y1="107.1" x2="449.2" y2="101.8" stroke="#f2a531" stroke-width="3.0" stroke-linecap="round"/><line x1="449.4" y1="110.8" x2="443.6" y2="109.2" stroke="#f2a531" stroke-width="3.0" stroke-linecap="round"/><line x1="450.1" y1="115.5" x2="444.8" y2="118.5" stroke="#f2a531" stroke-width="3.0" stroke-linecap="round"/><line x1="453.8" y1="118.3" x2="452.2" y2="124.2" stroke="#f2a531" stroke-width="3.0" stroke-linecap="round"/><line x1="458.4" y1="117.7" x2="461.4" y2="123.0" stroke="#f2a531" stroke-width="3.0" stroke-linecap="round"/><line x1="461.2" y1="114.0" x2="467.1" y2="115.6" stroke="#f6e71c" stroke-width="2.0" stroke-linecap="round"/><line x1="460.6" y1="109.4" x2="465.9" y2="106.3" stroke="#f6e71c" stroke-width="2.0" stroke-linecap="round"/><line x1="456.9" y1="106.5" x2="458.5" y2="100.6" stroke="#f6e71c" stroke-width="2.0" stroke-linecap="round"/><line x1="452.3" y1="107.1" x2="449.2" y2="101.8" stroke="#f6e71c" stroke-width="2.0" stroke-linecap="round"/><line x1="449.4" y1="110.8" x2="443.6" y2="109.2" stroke="#f6e71c" stroke-width="2.0" stroke-linecap="round"/><line x1="450.1" y1="115.5" x2="444.8" y2="118.5" stroke="#f6e71c" stroke-width="2.0" stroke-linecap="round"/><line x1="453.8" y1="118.3" x2="452.2" y2="124.2" stroke="#f6e71c" stroke-width="2.0" stroke-linecap="round"/><line x1="458.4" y1="117.7" x2="461.4" y2="123.0" stroke="#f6e71c" stroke-width="2.0" stroke-linecap="round"/><circle cx="455.3" cy="112.4" r="6.6" fill="#f6e71c" stroke="#f2a531" stroke-width="0.9"/></g>
<rect x="438.3" y="116.6" width="34.6" height="10.6" fill="#f4f8e6" opacity="0.6"/><line x1="437.8" y1="117.6" x2="473.8" y2="117.6" stroke="#4f7fc8" stroke-width="2"/><line x1="438.8" y1="120.8" x2="472.8" y2="120.8" stroke="#5b8bd0" stroke-width="1.3"/><line x1="439.8" y1="122.6" x2="471.8" y2="122.6" stroke="#c9c9b8" stroke-width="1"/><line x1="439.6" y1="125.6" x2="471.1" y2="125.6" stroke="#5a86c8" stroke-width="2.8"/>
<line x1="499.0" y1="114.2" x2="504.9" y2="115.8" stroke="#f2a531" stroke-width="3.0" stroke-linecap="round"/><line x1="498.4" y1="109.5" x2="503.6" y2="106.5" stroke="#f2a531" stroke-width="3.0" stroke-linecap="round"/><line x1="494.7" y1="106.7" x2="496.2" y2="100.8" stroke="#f2a531" stroke-width="3.0" stroke-linecap="round"/><line x1="490.0" y1="107.3" x2="487.0" y2="102.0" stroke="#f2a531" stroke-width="3.0" stroke-linecap="round"/><line x1="487.2" y1="111.0" x2="481.3" y2="109.4" stroke="#f2a531" stroke-width="3.0" stroke-linecap="round"/><line x1="487.8" y1="115.6" x2="482.5" y2="118.7" stroke="#f2a531" stroke-width="3.0" stroke-linecap="round"/><line x1="491.5" y1="118.5" x2="489.9" y2="124.4" stroke="#f2a531" stroke-width="3.0" stroke-linecap="round"/><line x1="496.1" y1="117.9" x2="499.2" y2="123.2" stroke="#f2a531" stroke-width="3.0" stroke-linecap="round"/><line x1="499.0" y1="114.2" x2="504.9" y2="115.8" stroke="#f6e71c" stroke-width="2.0" stroke-linecap="round"/><line x1="498.4" y1="109.5" x2="503.6" y2="106.5" stroke="#f6e71c" stroke-width="2.0" stroke-linecap="round"/><line x1="494.7" y1="106.7" x2="496.2" y2="100.8" stroke="#f6e71c" stroke-width="2.0" stroke-linecap="round"/><line x1="490.0" y1="107.3" x2="487.0" y2="102.0" stroke="#f6e71c" stroke-width="2.0" stroke-linecap="round"/><line x1="487.2" y1="111.0" x2="481.3" y2="109.4" stroke="#f6e71c" stroke-width="2.0" stroke-linecap="round"/><line x1="487.8" y1="115.6" x2="482.5" y2="118.7" stroke="#f6e71c" stroke-width="2.0" stroke-linecap="round"/><line x1="491.5" y1="118.5" x2="489.9" y2="124.4" stroke="#f6e71c" stroke-width="2.0" stroke-linecap="round"/><line x1="496.1" y1="117.9" x2="499.2" y2="123.2" stroke="#f6e71c" stroke-width="2.0" stroke-linecap="round"/><circle cx="493.1" cy="112.6" r="6.6" fill="#f6e71c" stroke="#f2a531" stroke-width="0.9"/>
<circle cx="478.25" cy="121.83" r="4.59" fill="#2a5fb8" stroke="#2a5fb8" stroke-width="3.60"/><circle cx="485.36" cy="117.51" r="4.32" fill="#2a5fb8" stroke="#2a5fb8" stroke-width="3.60"/><circle cx="490.94" cy="122.55" r="4.86" fill="#2a5fb8" stroke="#2a5fb8" stroke-width="3.60"/><rect x="478.25" y="125.43" width="12.69" height="0.99" fill="#2a5fb8" stroke="#2a5fb8" stroke-width="3.60"/><circle cx="478.25" cy="121.83" r="4.59" fill="#d3d3d3"/><circle cx="485.36" cy="117.51" r="4.32" fill="#d3d3d3"/><circle cx="490.94" cy="122.55" r="4.86" fill="#d3d3d3"/><rect x="478.25" y="120.30" width="12.69" height="6.12" fill="#d3d3d3"/><path d="M486.07,123.18 A4.86,4.86 0 0 1 491.84,117.78" fill="none" stroke="#2a5fb8" stroke-width="1.80"/>
<line x1="506.9" y1="115.3" x2="542.9" y2="115.3" stroke="#2e5480" stroke-width="1.5"/><line x1="508.9" y1="119.1" x2="541.9" y2="119.1" stroke="#3d6595" stroke-width="1.1"/><line x1="510.4" y1="123.6" x2="541.4" y2="123.6" stroke="#2b4a72" stroke-width="2.4"/>
<path d="M529.46,101.10 C528.16,101.42 523.74,101.72 521.66,103.00 C519.59,104.28 517.98,106.95 517.01,108.80 C516.05,110.65 515.72,112.10 515.86,114.10 C516.00,116.10 516.65,119.00 517.86,120.80 C519.08,122.60 521.23,124.02 523.16,124.90 C525.10,125.78 528.41,125.90 529.46,126.10 C528.96,125.35 527.32,123.60 526.46,121.60 C525.60,119.60 524.56,116.22 524.31,114.10 C524.06,111.98 524.10,111.07 524.96,108.90 C525.82,106.73 528.71,102.40 529.46,101.10Z" fill="none" stroke="#000" stroke-width="1.7" stroke-linejoin="round"/>
<line x1="541.5" y1="115.3" x2="577.5" y2="115.3" stroke="#2e5480" stroke-width="1.5"/><line x1="543.5" y1="119.1" x2="576.5" y2="119.1" stroke="#3d6595" stroke-width="1.1"/><line x1="545.0" y1="123.6" x2="576.0" y2="123.6" stroke="#2b4a72" stroke-width="2.4"/>
<path d="M564.00,101.10 C562.70,101.42 558.28,101.72 556.20,103.00 C554.12,104.28 552.52,106.95 551.55,108.80 C550.58,110.65 550.26,112.10 550.40,114.10 C550.54,116.10 551.18,119.00 552.40,120.80 C553.62,122.60 555.77,124.02 557.70,124.90 C559.63,125.78 562.95,125.90 564.00,126.10 C563.50,125.35 561.86,123.60 561.00,121.60 C560.14,119.60 559.10,116.22 558.85,114.10 C558.60,111.98 558.64,111.07 559.50,108.90 C560.36,106.73 563.25,102.40 564.00,101.10Z" fill="none" stroke="#000" stroke-width="1.7" stroke-linejoin="round"/>
<g clip-path="url(#sunclip)"><line x1="599.4" y1="114.0" x2="605.3" y2="115.6" stroke="#f2a531" stroke-width="3.0" stroke-linecap="round"/><line x1="598.8" y1="109.4" x2="604.1" y2="106.3" stroke="#f2a531" stroke-width="3.0" stroke-linecap="round"/><line x1="595.1" y1="106.5" x2="596.6" y2="100.6" stroke="#f2a531" stroke-width="3.0" stroke-linecap="round"/><line x1="590.4" y1="107.1" x2="587.4" y2="101.8" stroke="#f2a531" stroke-width="3.0" stroke-linecap="round"/><line x1="587.6" y1="110.8" x2="581.7" y2="109.2" stroke="#f2a531" stroke-width="3.0" stroke-linecap="round"/><line x1="588.2" y1="115.5" x2="582.9" y2="118.5" stroke="#f2a531" stroke-width="3.0" stroke-linecap="round"/><line x1="591.9" y1="118.3" x2="590.3" y2="124.2" stroke="#f2a531" stroke-width="3.0" stroke-linecap="round"/><line x1="596.5" y1="117.7" x2="599.6" y2="123.0" stroke="#f2a531" stroke-width="3.0" stroke-linecap="round"/><line x1="599.4" y1="114.0" x2="605.3" y2="115.6" stroke="#f6e71c" stroke-width="2.0" stroke-linecap="round"/><line x1="598.8" y1="109.4" x2="604.1" y2="106.3" stroke="#f6e71c" stroke-width="2.0" stroke-linecap="round"/><line x1="595.1" y1="106.5" x2="596.6" y2="100.6" stroke="#f6e71c" stroke-width="2.0" stroke-linecap="round"/><line x1="590.4" y1="107.1" x2="587.4" y2="101.8" stroke="#f6e71c" stroke-width="2.0" stroke-linecap="round"/><line x1="587.6" y1="110.8" x2="581.7" y2="109.2" stroke="#f6e71c" stroke-width="2.0" stroke-linecap="round"/><line x1="588.2" y1="115.5" x2="582.9" y2="118.5" stroke="#f6e71c" stroke-width="2.0" stroke-linecap="round"/><line x1="591.9" y1="118.3" x2="590.3" y2="124.2" stroke="#f6e71c" stroke-width="2.0" stroke-linecap="round"/><line x1="596.5" y1="117.7" x2="599.6" y2="123.0" stroke="#f6e71c" stroke-width="2.0" stroke-linecap="round"/><circle cx="593.5" cy="112.4" r="6.6" fill="#f6e71c" stroke="#f2a531" stroke-width="0.9"/></g>
<rect x="576.5" y="116.6" width="34.6" height="10.6" fill="#f4f8e6" opacity="0.6"/><line x1="576.0" y1="117.6" x2="612.0" y2="117.6" stroke="#4f7fc8" stroke-width="2"/><line x1="577.0" y1="120.8" x2="611.0" y2="120.8" stroke="#5b8bd0" stroke-width="1.3"/><line x1="578.0" y1="122.6" x2="610.0" y2="122.6" stroke="#c9c9b8" stroke-width="1"/><line x1="577.8" y1="125.6" x2="609.3" y2="125.6" stroke="#5a86c8" stroke-width="2.8"/>
<g clip-path="url(#sunclip)"><line x1="633.9" y1="114.0" x2="639.8" y2="115.6" stroke="#f2a531" stroke-width="3.0" stroke-linecap="round"/><line x1="633.3" y1="109.4" x2="638.6" y2="106.3" stroke="#f2a531" stroke-width="3.0" stroke-linecap="round"/><line x1="629.6" y1="106.5" x2="631.2" y2="100.6" stroke="#f2a531" stroke-width="3.0" stroke-linecap="round"/><line x1="625.0" y1="107.1" x2="621.9" y2="101.8" stroke="#f2a531" stroke-width="3.0" stroke-linecap="round"/><line x1="622.1" y1="110.8" x2="616.2" y2="109.2" stroke="#f2a531" stroke-width="3.0" stroke-linecap="round"/><line x1="622.7" y1="115.5" x2="617.5" y2="118.5" stroke="#f2a531" stroke-width="3.0" stroke-linecap="round"/><line x1="626.4" y1="118.3" x2="624.9" y2="124.2" stroke="#f2a531" stroke-width="3.0" stroke-linecap="round"/><line x1="631.1" y1="117.7" x2="634.1" y2="123.0" stroke="#f2a531" stroke-width="3.0" stroke-linecap="round"/><line x1="633.9" y1="114.0" x2="639.8" y2="115.6" stroke="#f6e71c" stroke-width="2.0" stroke-linecap="round"/><line x1="633.3" y1="109.4" x2="638.6" y2="106.3" stroke="#f6e71c" stroke-width="2.0" stroke-linecap="round"/><line x1="629.6" y1="106.5" x2="631.2" y2="100.6" stroke="#f6e71c" stroke-width="2.0" stroke-linecap="round"/><line x1="625.0" y1="107.1" x2="621.9" y2="101.8" stroke="#f6e71c" stroke-width="2.0" stroke-linecap="round"/><line x1="622.1" y1="110.8" x2="616.2" y2="109.2" stroke="#f6e71c" stroke-width="2.0" stroke-linecap="round"/><line x1="622.7" y1="115.5" x2="617.5" y2="118.5" stroke="#f6e71c" stroke-width="2.0" stroke-linecap="round"/><line x1="626.4" y1="118.3" x2="624.9" y2="124.2" stroke="#f6e71c" stroke-width="2.0" stroke-linecap="round"/><line x1="631.1" y1="117.7" x2="634.1" y2="123.0" stroke="#f6e71c" stroke-width="2.0" stroke-linecap="round"/><circle cx="628.0" cy="112.4" r="6.6" fill="#f6e71c" stroke="#f2a531" stroke-width="0.9"/></g>
<rect x="611.0" y="116.6" width="34.6" height="10.6" fill="#f4f8e6" opacity="0.6"/><line x1="610.5" y1="117.6" x2="646.5" y2="117.6" stroke="#4f7fc8" stroke-width="2"/><line x1="611.5" y1="120.8" x2="645.5" y2="120.8" stroke="#5b8bd0" stroke-width="1.3"/><line x1="612.5" y1="122.6" x2="644.5" y2="122.6" stroke="#c9c9b8" stroke-width="1"/><line x1="612.3" y1="125.6" x2="643.8" y2="125.6" stroke="#5a86c8" stroke-width="2.8"/>
<line x1="645.1" y1="115.3" x2="681.1" y2="115.3" stroke="#2e5480" stroke-width="1.5"/><line x1="647.1" y1="119.1" x2="680.1" y2="119.1" stroke="#3d6595" stroke-width="1.1"/><line x1="648.6" y1="123.6" x2="679.6" y2="123.6" stroke="#2b4a72" stroke-width="2.4"/>
<path d="M667.61,101.10 C666.31,101.42 661.89,101.72 659.81,103.00 C657.74,104.28 656.13,106.95 655.16,108.80 C654.20,110.65 653.87,112.10 654.01,114.10 C654.15,116.10 654.80,119.00 656.01,120.80 C657.23,122.60 659.38,124.02 661.31,124.90 C663.25,125.78 666.56,125.90 667.61,126.10 C667.11,125.35 665.47,123.60 664.61,121.60 C663.75,119.60 662.71,116.22 662.46,114.10 C662.21,111.98 662.25,111.07 663.11,108.90 C663.97,106.73 666.86,102.40 667.61,101.10Z" fill="none" stroke="#000" stroke-width="1.7" stroke-linejoin="round"/>
<line x1="679.6" y1="115.3" x2="715.6" y2="115.3" stroke="#2e5480" stroke-width="1.5"/><line x1="681.6" y1="119.1" x2="714.6" y2="119.1" stroke="#3d6595" stroke-width="1.1"/><line x1="683.1" y1="123.6" x2="714.1" y2="123.6" stroke="#2b4a72" stroke-width="2.4"/>
<path d="M702.15,101.10 C700.85,101.42 696.42,101.72 694.35,103.00 C692.28,104.28 690.67,106.95 689.70,108.80 C688.73,110.65 688.41,112.10 688.55,114.10 C688.69,116.10 689.33,119.00 690.55,120.80 C691.77,122.60 693.92,124.02 695.85,124.90 C697.78,125.78 701.10,125.90 702.15,126.10 C701.65,125.35 700.01,123.60 699.15,121.60 C698.29,119.60 697.25,116.22 697.00,114.10 C696.75,111.98 696.79,111.07 697.65,108.90 C698.51,106.73 701.40,102.40 702.15,101.10Z" fill="none" stroke="#000" stroke-width="1.7" stroke-linejoin="round"/>
<circle cx="721.70" cy="117.59" r="7.24" fill="#2a5fb8" stroke="#2a5fb8" stroke-width="3.00"/><circle cx="732.92" cy="110.78" r="6.82" fill="#2a5fb8" stroke="#2a5fb8" stroke-width="3.00"/><circle cx="741.73" cy="118.73" r="7.67" fill="#2a5fb8" stroke="#2a5fb8" stroke-width="3.00"/><rect x="721.70" y="120.59" width="20.02" height="4.24" fill="#2a5fb8" stroke="#2a5fb8" stroke-width="3.00"/><circle cx="721.70" cy="117.59" r="7.24" fill="#d3d3d3"/><circle cx="732.92" cy="110.78" r="6.82" fill="#d3d3d3"/><circle cx="741.73" cy="118.73" r="7.67" fill="#d3d3d3"/><rect x="721.70" y="115.18" width="20.02" height="9.66" fill="#d3d3d3"/><path d="M734.06,119.72 A7.67,7.67 0 0 1 743.15,111.20" fill="none" stroke="#2a5fb8" stroke-width="1.50"/>
<circle cx="728.01" cy="119.83" r="4.59" fill="#2a5fb8" stroke="#2a5fb8" stroke-width="3.00"/><circle cx="735.12" cy="115.51" r="4.32" fill="#2a5fb8" stroke="#2a5fb8" stroke-width="3.00"/><circle cx="740.70" cy="120.55" r="4.86" fill="#2a5fb8" stroke="#2a5fb8" stroke-width="3.00"/><rect x="728.01" y="122.83" width="12.69" height="1.59" fill="#2a5fb8" stroke="#2a5fb8" stroke-width="3.00"/><circle cx="728.01" cy="119.83" r="4.59" fill="#ffffff"/><circle cx="735.12" cy="115.51" r="4.32" fill="#ffffff"/><circle cx="740.70" cy="120.55" r="4.86" fill="#ffffff"/><rect x="728.01" y="118.30" width="12.69" height="6.12" fill="#ffffff"/><path d="M735.84,121.18 A4.86,4.86 0 0 1 741.60,115.78" fill="none" stroke="#2a5fb8" stroke-width="1.50"/>
<line x1="775.3" y1="114.2" x2="781.2" y2="115.8" stroke="#f2a531" stroke-width="3.0" stroke-linecap="round"/><line x1="774.7" y1="109.5" x2="779.9" y2="106.5" stroke="#f2a531" stroke-width="3.0" stroke-linecap="round"/><line x1="771.0" y1="106.7" x2="772.5" y2="100.8" stroke="#f2a531" stroke-width="3.0" stroke-linecap="round"/><line x1="766.3" y1="107.3" x2="763.3" y2="102.0" stroke="#f2a531" stroke-width="3.0" stroke-linecap="round"/><line x1="763.5" y1="111.0" x2="757.6" y2="109.4" stroke="#f2a531" stroke-width="3.0" stroke-linecap="round"/><line x1="764.1" y1="115.6" x2="758.8" y2="118.7" stroke="#f2a531" stroke-width="3.0" stroke-linecap="round"/><line x1="767.8" y1="118.5" x2="766.2" y2="124.4" stroke="#f2a531" stroke-width="3.0" stroke-linecap="round"/><line x1="772.4" y1="117.9" x2="775.5" y2="123.2" stroke="#f2a531" stroke-width="3.0" stroke-linecap="round"/><line x1="775.3" y1="114.2" x2="781.2" y2="115.8" stroke="#f6e71c" stroke-width="2.0" stroke-linecap="round"/><line x1="774.7" y1="109.5" x2="779.9" y2="106.5" stroke="#f6e71c" stroke-width="2.0" stroke-linecap="round"/><line x1="771.0" y1="106.7" x2="772.5" y2="100.8" stroke="#f6e71c" stroke-width="2.0" stroke-linecap="round"/><line x1="766.3" y1="107.3" x2="763.3" y2="102.0" stroke="#f6e71c" stroke-width="2.0" stroke-linecap="round"/><line x1="763.5" y1="111.0" x2="757.6" y2="109.4" stroke="#f6e71c" stroke-width="2.0" stroke-linecap="round"/><line x1="764.1" y1="115.6" x2="758.8" y2="118.7" stroke="#f6e71c" stroke-width="2.0" stroke-linecap="round"/><line x1="767.8" y1="118.5" x2="766.2" y2="124.4" stroke="#f6e71c" stroke-width="2.0" stroke-linecap="round"/><line x1="772.4" y1="117.9" x2="775.5" y2="123.2" stroke="#f6e71c" stroke-width="2.0" stroke-linecap="round"/><circle cx="769.4" cy="112.6" r="6.6" fill="#f6e71c" stroke="#f2a531" stroke-width="0.9"/>
<circle cx="754.55" cy="121.83" r="4.59" fill="#2a5fb8" stroke="#2a5fb8" stroke-width="3.60"/><circle cx="761.65" cy="117.51" r="4.32" fill="#2a5fb8" stroke="#2a5fb8" stroke-width="3.60"/><circle cx="767.24" cy="122.55" r="4.86" fill="#2a5fb8" stroke="#2a5fb8" stroke-width="3.60"/><rect x="754.55" y="125.43" width="12.69" height="0.99" fill="#2a5fb8" stroke="#2a5fb8" stroke-width="3.60"/><circle cx="754.55" cy="121.83" r="4.59" fill="#d3d3d3"/><circle cx="761.65" cy="117.51" r="4.32" fill="#d3d3d3"/><circle cx="767.24" cy="122.55" r="4.86" fill="#d3d3d3"/><rect x="754.55" y="120.30" width="12.69" height="6.12" fill="#d3d3d3"/><path d="M762.38,123.18 A4.86,4.86 0 0 1 768.13,117.78" fill="none" stroke="#2a5fb8" stroke-width="1.80"/>
<path d="M800.56,101.10 C799.26,101.42 794.84,101.72 792.76,103.00 C790.69,104.28 789.08,106.95 788.11,108.80 C787.15,110.65 786.82,112.10 786.96,114.10 C787.10,116.10 787.75,119.00 788.96,120.80 C790.18,122.60 792.33,124.02 794.26,124.90 C796.20,125.78 799.51,125.90 800.56,126.10 C800.06,125.35 798.42,123.60 797.56,121.60 C796.70,119.60 795.66,116.22 795.41,114.10 C795.16,111.98 795.20,111.07 796.06,108.90 C796.92,106.73 799.81,102.40 800.56,101.10Z" fill="none" stroke="#000" stroke-width="1.7" stroke-linejoin="round"/>
<circle cx="796.41" cy="119.80" r="5.10" fill="#2d4f78" stroke="#2d4f78" stroke-width="3.00"/><circle cx="804.31" cy="115.00" r="4.80" fill="#2d4f78" stroke="#2d4f78" stroke-width="3.00"/><circle cx="810.51" cy="120.60" r="5.40" fill="#2d4f78" stroke="#2d4f78" stroke-width="3.00"/><rect x="796.41" y="122.80" width="14.10" height="2.10" fill="#2d4f78" stroke="#2d4f78" stroke-width="3.00"/><circle cx="796.41" cy="119.80" r="5.10" fill="#d3d3d3"/><circle cx="804.31" cy="115.00" r="4.80" fill="#d3d3d3"/><circle cx="810.51" cy="120.60" r="5.40" fill="#d3d3d3"/><rect x="796.41" y="118.10" width="14.10" height="6.80" fill="#d3d3d3"/><path d="M805.11,121.30 A5.40,5.40 0 0 1 811.51,115.30" fill="none" stroke="#2d4f78" stroke-width="1.50"/>
<line x1="817.8" y1="115.3" x2="853.8" y2="115.3" stroke="#2e5480" stroke-width="1.5"/><line x1="819.8" y1="119.1" x2="852.8" y2="119.1" stroke="#3d6595" stroke-width="1.1"/><line x1="821.2" y1="123.6" x2="852.2" y2="123.6" stroke="#2b4a72" stroke-width="2.4"/>
<path d="M840.30,101.10 C839.00,101.42 834.58,101.72 832.50,103.00 C830.42,104.28 828.82,106.95 827.85,108.80 C826.88,110.65 826.56,112.10 826.70,114.10 C826.84,116.10 827.48,119.00 828.70,120.80 C829.92,122.60 832.07,124.02 834.00,124.90 C835.93,125.78 839.25,125.90 840.30,126.10 C839.80,125.35 838.16,123.60 837.30,121.60 C836.44,119.60 835.40,116.22 835.15,114.10 C834.90,111.98 834.94,111.07 835.80,108.90 C836.66,106.73 839.55,102.40 840.30,101.10Z" fill="none" stroke="#000" stroke-width="1.7" stroke-linejoin="round"/>
<g clip-path="url(#sunclip)"><line x1="875.7" y1="114.0" x2="881.6" y2="115.6" stroke="#f2a531" stroke-width="3.0" stroke-linecap="round"/><line x1="875.1" y1="109.4" x2="880.4" y2="106.3" stroke="#f2a531" stroke-width="3.0" stroke-linecap="round"/><line x1="871.4" y1="106.5" x2="872.9" y2="100.6" stroke="#f2a531" stroke-width="3.0" stroke-linecap="round"/><line x1="866.7" y1="107.1" x2="863.7" y2="101.8" stroke="#f2a531" stroke-width="3.0" stroke-linecap="round"/><line x1="863.9" y1="110.8" x2="858.0" y2="109.2" stroke="#f2a531" stroke-width="3.0" stroke-linecap="round"/><line x1="864.5" y1="115.5" x2="859.2" y2="118.5" stroke="#f2a531" stroke-width="3.0" stroke-linecap="round"/><line x1="868.2" y1="118.3" x2="866.6" y2="124.2" stroke="#f2a531" stroke-width="3.0" stroke-linecap="round"/><line x1="872.8" y1="117.7" x2="875.9" y2="123.0" stroke="#f2a531" stroke-width="3.0" stroke-linecap="round"/><line x1="875.7" y1="114.0" x2="881.6" y2="115.6" stroke="#f6e71c" stroke-width="2.0" stroke-linecap="round"/><line x1="875.1" y1="109.4" x2="880.4" y2="106.3" stroke="#f6e71c" stroke-width="2.0" stroke-linecap="round"/><line x1="871.4" y1="106.5" x2="872.9" y2="100.6" stroke="#f6e71c" stroke-width="2.0" stroke-linecap="round"/><line x1="866.7" y1="107.1" x2="863.7" y2="101.8" stroke="#f6e71c" stroke-width="2.0" stroke-linecap="round"/><line x1="863.9" y1="110.8" x2="858.0" y2="109.2" stroke="#f6e71c" stroke-width="2.0" stroke-linecap="round"/><line x1="864.5" y1="115.5" x2="859.2" y2="118.5" stroke="#f6e71c" stroke-width="2.0" stroke-linecap="round"/><line x1="868.2" y1="118.3" x2="866.6" y2="124.2" stroke="#f6e71c" stroke-width="2.0" stroke-linecap="round"/><line x1="872.8" y1="117.7" x2="875.9" y2="123.0" stroke="#f6e71c" stroke-width="2.0" stroke-linecap="round"/><circle cx="869.8" cy="112.4" r="6.6" fill="#f6e71c" stroke="#f2a531" stroke-width="0.9"/></g>
<rect x="852.8" y="116.6" width="34.6" height="10.6" fill="#f4f8e6" opacity="0.6"/><line x1="852.3" y1="117.6" x2="888.3" y2="117.6" stroke="#4f7fc8" stroke-width="2"/><line x1="853.3" y1="120.8" x2="887.3" y2="120.8" stroke="#5b8bd0" stroke-width="1.3"/><line x1="854.3" y1="122.6" x2="886.3" y2="122.6" stroke="#c9c9b8" stroke-width="1"/><line x1="854.1" y1="125.6" x2="885.6" y2="125.6" stroke="#5a86c8" stroke-width="2.8"/>
<line x1="913.4" y1="114.2" x2="919.3" y2="115.8" stroke="#f2a531" stroke-width="3.0" stroke-linecap="round"/><line x1="912.8" y1="109.5" x2="918.1" y2="106.5" stroke="#f2a531" stroke-width="3.0" stroke-linecap="round"/><line x1="909.1" y1="106.7" x2="910.7" y2="100.8" stroke="#f2a531" stroke-width="3.0" stroke-linecap="round"/><line x1="904.5" y1="107.3" x2="901.4" y2="102.0" stroke="#f2a531" stroke-width="3.0" stroke-linecap="round"/><line x1="901.6" y1="111.0" x2="895.7" y2="109.4" stroke="#f2a531" stroke-width="3.0" stroke-linecap="round"/><line x1="902.2" y1="115.6" x2="897.0" y2="118.7" stroke="#f2a531" stroke-width="3.0" stroke-linecap="round"/><line x1="905.9" y1="118.5" x2="904.4" y2="124.4" stroke="#f2a531" stroke-width="3.0" stroke-linecap="round"/><line x1="910.6" y1="117.9" x2="913.6" y2="123.2" stroke="#f2a531" stroke-width="3.0" stroke-linecap="round"/><line x1="913.4" y1="114.2" x2="919.3" y2="115.8" stroke="#f6e71c" stroke-width="2.0" stroke-linecap="round"/><line x1="912.8" y1="109.5" x2="918.1" y2="106.5" stroke="#f6e71c" stroke-width="2.0" stroke-linecap="round"/><line x1="909.1" y1="106.7" x2="910.7" y2="100.8" stroke="#f6e71c" stroke-width="2.0" stroke-linecap="round"/><line x1="904.5" y1="107.3" x2="901.4" y2="102.0" stroke="#f6e71c" stroke-width="2.0" stroke-linecap="round"/><line x1="901.6" y1="111.0" x2="895.7" y2="109.4" stroke="#f6e71c" stroke-width="2.0" stroke-linecap="round"/><line x1="902.2" y1="115.6" x2="897.0" y2="118.7" stroke="#f6e71c" stroke-width="2.0" stroke-linecap="round"/><line x1="905.9" y1="118.5" x2="904.4" y2="124.4" stroke="#f6e71c" stroke-width="2.0" stroke-linecap="round"/><line x1="910.6" y1="117.9" x2="913.6" y2="123.2" stroke="#f6e71c" stroke-width="2.0" stroke-linecap="round"/><circle cx="907.5" cy="112.6" r="6.6" fill="#f6e71c" stroke="#f2a531" stroke-width="0.9"/>
<circle cx="892.70" cy="121.83" r="4.59" fill="#2a5fb8" stroke="#2a5fb8" stroke-width="3.60"/><circle cx="899.80" cy="117.51" r="4.32" fill="#2a5fb8" stroke="#2a5fb8" stroke-width="3.60"/><circle cx="905.38" cy="122.55" r="4.86" fill="#2a5fb8" stroke="#2a5fb8" stroke-width="3.60"/><rect x="892.70" y="125.43" width="12.69" height="0.99" fill="#2a5fb8" stroke="#2a5fb8" stroke-width="3.60"/><circle cx="892.70" cy="121.83" r="4.59" fill="#d3d3d3"/><circle cx="899.80" cy="117.51" r="4.32" fill="#d3d3d3"/><circle cx="905.38" cy="122.55" r="4.86" fill="#d3d3d3"/><rect x="892.70" y="120.30" width="12.69" height="6.12" fill="#d3d3d3"/><path d="M900.52,123.18 A4.86,4.86 0 0 1 906.28,117.78" fill="none" stroke="#2a5fb8" stroke-width="1.80"/>
<path d="M938.71,101.10 C937.41,101.42 932.99,101.72 930.91,103.00 C928.84,104.28 927.23,106.95 926.26,108.80 C925.30,110.65 924.97,112.10 925.11,114.10 C925.25,116.10 925.90,119.00 927.11,120.80 C928.33,122.60 930.48,124.02 932.41,124.90 C934.35,125.78 937.66,125.90 938.71,126.10 C938.21,125.35 936.57,123.60 935.71,121.60 C934.85,119.60 933.81,116.22 933.56,114.10 C933.31,111.98 933.35,111.07 934.21,108.90 C935.07,106.73 937.96,102.40 938.71,101.10Z" fill="none" stroke="#000" stroke-width="1.7" stroke-linejoin="round"/>
<circle cx="934.56" cy="119.80" r="5.10" fill="#2d4f78" stroke="#2d4f78" stroke-width="3.00"/><circle cx="942.46" cy="115.00" r="4.80" fill="#2d4f78" stroke="#2d4f78" stroke-width="3.00"/><circle cx="948.66" cy="120.60" r="5.40" fill="#2d4f78" stroke="#2d4f78" stroke-width="3.00"/><rect x="934.56" y="122.80" width="14.10" height="2.10" fill="#2d4f78" stroke="#2d4f78" stroke-width="3.00"/><circle cx="934.56" cy="119.80" r="5.10" fill="#d3d3d3"/><circle cx="942.46" cy="115.00" r="4.80" fill="#d3d3d3"/><circle cx="948.66" cy="120.60" r="5.40" fill="#d3d3d3"/><rect x="934.56" y="118.10" width="14.10" height="6.80" fill="#d3d3d3"/><path d="M943.26,121.30 A5.40,5.40 0 0 1 949.66,115.30" fill="none" stroke="#2d4f78" stroke-width="1.50"/>
<path d="M973.25,101.10 C971.95,101.42 967.53,101.72 965.45,103.00 C963.38,104.28 961.77,106.95 960.80,108.80 C959.83,110.65 959.51,112.10 959.65,114.10 C959.79,116.10 960.43,119.00 961.65,120.80 C962.87,122.60 965.02,124.02 966.95,124.90 C968.88,125.78 972.20,125.90 973.25,126.10 C972.75,125.35 971.11,123.60 970.25,121.60 C969.39,119.60 968.35,116.22 968.10,114.10 C967.85,111.98 967.89,111.07 968.75,108.90 C969.61,106.73 972.50,102.40 973.25,101.10Z" fill="none" stroke="#000" stroke-width="1.7" stroke-linejoin="round"/>
<circle cx="969.10" cy="119.80" r="5.10" fill="#2d4f78" stroke="#2d4f78" stroke-width="3.00"/><circle cx="977.00" cy="115.00" r="4.80" fill="#2d4f78" stroke="#2d4f78" stroke-width="3.00"/><circle cx="983.20" cy="120.60" r="5.40" fill="#2d4f78" stroke="#2d4f78" stroke-width="3.00"/><rect x="969.10" y="122.80" width="14.10" height="2.10" fill="#2d4f78" stroke="#2d4f78" stroke-width="3.00"/><circle cx="969.10" cy="119.80" r="5.10" fill="#d3d3d3"/><circle cx="977.00" cy="115.00" r="4.80" fill="#d3d3d3"/><circle cx="983.20" cy="120.60" r="5.40" fill="#d3d3d3"/><rect x="969.10" y="118.10" width="14.10" height="6.80" fill="#d3d3d3"/><path d="M977.80,121.30 A5.40,5.40 0 0 1 984.20,115.30" fill="none" stroke="#2d4f78" stroke-width="1.50"/>
<line x1="1017.0" y1="114.2" x2="1022.9" y2="115.8" stroke="#f2a531" stroke-width="3.0" stroke-linecap="round"/><line x1="1016.4" y1="109.5" x2="1021.7" y2="106.5" stroke="#f2a531" stroke-width="3.0" stroke-linecap="round"/><line x1="1012.7" y1="106.7" x2="1014.3" y2="100.8" stroke="#f2a531" stroke-width="3.0" stroke-linecap="round"/><line x1="1008.1" y1="107.3" x2="1005.0" y2="102.0" stroke="#f2a531" stroke-width="3.0" stroke-linecap="round"/><line x1="1005.2" y1="111.0" x2="999.4" y2="109.4" stroke="#f2a531" stroke-width="3.0" stroke-linecap="round"/><line x1="1005.9" y1="115.6" x2="1000.6" y2="118.7" stroke="#f2a531" stroke-width="3.0" stroke-linecap="round"/><line x1="1009.6" y1="118.5" x2="1008.0" y2="124.4" stroke="#f2a531" stroke-width="3.0" stroke-linecap="round"/><line x1="1014.2" y1="117.9" x2="1017.2" y2="123.2" stroke="#f2a531" stroke-width="3.0" stroke-linecap="round"/><line x1="1017.0" y1="114.2" x2="1022.9" y2="115.8" stroke="#f6e71c" stroke-width="2.0" stroke-linecap="round"/><line x1="1016.4" y1="109.5" x2="1021.7" y2="106.5" stroke="#f6e71c" stroke-width="2.0" stroke-linecap="round"/><line x1="1012.7" y1="106.7" x2="1014.3" y2="100.8" stroke="#f6e71c" stroke-width="2.0" stroke-linecap="round"/><line x1="1008.1" y1="107.3" x2="1005.0" y2="102.0" stroke="#f6e71c" stroke-width="2.0" stroke-linecap="round"/><line x1="1005.2" y1="111.0" x2="999.4" y2="109.4" stroke="#f6e71c" stroke-width="2.0" stroke-linecap="round"/><line x1="1005.9" y1="115.6" x2="1000.6" y2="118.7" stroke="#f6e71c" stroke-width="2.0" stroke-linecap="round"/><line x1="1009.6" y1="118.5" x2="1008.0" y2="124.4" stroke="#f6e71c" stroke-width="2.0" stroke-linecap="round"/><line x1="1014.2" y1="117.9" x2="1017.2" y2="123.2" stroke="#f6e71c" stroke-width="2.0" stroke-linecap="round"/><circle cx="1011.1" cy="112.6" r="6.6" fill="#f6e71c" stroke="#f2a531" stroke-width="0.9"/>
<circle cx="996.31" cy="121.83" r="4.59" fill="#2a5fb8" stroke="#2a5fb8" stroke-width="3.60"/><circle cx="1003.42" cy="117.51" r="4.32" fill="#2a5fb8" stroke="#2a5fb8" stroke-width="3.60"/><circle cx="1009.00" cy="122.55" r="4.86" fill="#2a5fb8" stroke="#2a5fb8" stroke-width="3.60"/><rect x="996.31" y="125.43" width="12.69" height="0.99" fill="#2a5fb8" stroke="#2a5fb8" stroke-width="3.60"/><circle cx="996.31" cy="121.83" r="4.59" fill="#d3d3d3"/><circle cx="1003.42" cy="117.51" r="4.32" fill="#d3d3d3"/><circle cx="1009.00" cy="122.55" r="4.86" fill="#d3d3d3"/><rect x="996.31" y="120.30" width="12.69" height="6.12" fill="#d3d3d3"/><path d="M1004.14,123.18 A4.86,4.86 0 0 1 1009.90,117.78" fill="none" stroke="#2a5fb8" stroke-width="1.80"/>
<line x1="1045.7" y1="113.5" x2="1051.6" y2="115.1" stroke="#f2a531" stroke-width="3.0" stroke-linecap="round"/><line x1="1045.1" y1="108.9" x2="1050.3" y2="105.8" stroke="#f2a531" stroke-width="3.0" stroke-linecap="round"/><line x1="1041.4" y1="106.0" x2="1042.9" y2="100.1" stroke="#f2a531" stroke-width="3.0" stroke-linecap="round"/><line x1="1036.7" y1="106.6" x2="1033.7" y2="101.3" stroke="#f2a531" stroke-width="3.0" stroke-linecap="round"/><line x1="1033.9" y1="110.3" x2="1028.0" y2="108.7" stroke="#f2a531" stroke-width="3.0" stroke-linecap="round"/><line x1="1034.5" y1="115.0" x2="1029.2" y2="118.0" stroke="#f2a531" stroke-width="3.0" stroke-linecap="round"/><line x1="1038.2" y1="117.8" x2="1036.6" y2="123.7" stroke="#f2a531" stroke-width="3.0" stroke-linecap="round"/><line x1="1042.8" y1="117.2" x2="1045.9" y2="122.5" stroke="#f2a531" stroke-width="3.0" stroke-linecap="round"/><line x1="1045.7" y1="113.5" x2="1051.6" y2="115.1" stroke="#f6e71c" stroke-width="2.0" stroke-linecap="round"/><line x1="1045.1" y1="108.9" x2="1050.3" y2="105.8" stroke="#f6e71c" stroke-width="2.0" stroke-linecap="round"/><line x1="1041.4" y1="106.0" x2="1042.9" y2="100.1" stroke="#f6e71c" stroke-width="2.0" stroke-linecap="round"/><line x1="1036.7" y1="106.6" x2="1033.7" y2="101.3" stroke="#f6e71c" stroke-width="2.0" stroke-linecap="round"/><line x1="1033.9" y1="110.3" x2="1028.0" y2="108.7" stroke="#f6e71c" stroke-width="2.0" stroke-linecap="round"/><line x1="1034.5" y1="115.0" x2="1029.2" y2="118.0" stroke="#f6e71c" stroke-width="2.0" stroke-linecap="round"/><line x1="1038.2" y1="117.8" x2="1036.6" y2="123.7" stroke="#f6e71c" stroke-width="2.0" stroke-linecap="round"/><line x1="1042.8" y1="117.2" x2="1045.9" y2="122.5" stroke="#f6e71c" stroke-width="2.0" stroke-linecap="round"/><circle cx="1039.8" cy="111.9" r="6.6" fill="#f6e71c" stroke="#f2a531" stroke-width="0.9"/>
<circle cx="1043.43" cy="120.80" r="3.67" fill="#2a5fb8" stroke="#2a5fb8" stroke-width="3.20"/><circle cx="1049.12" cy="117.35" r="3.46" fill="#2a5fb8" stroke="#2a5fb8" stroke-width="3.20"/><circle cx="1053.58" cy="121.38" r="3.89" fill="#2a5fb8" stroke="#2a5fb8" stroke-width="3.20"/><rect x="1043.43" y="124.00" width="10.15" height="0.47" fill="#2a5fb8" stroke="#2a5fb8" stroke-width="3.20"/><circle cx="1043.43" cy="120.80" r="3.67" fill="#ffffff"/><circle cx="1049.12" cy="117.35" r="3.46" fill="#ffffff"/><circle cx="1053.58" cy="121.38" r="3.89" fill="#ffffff"/><rect x="1043.43" y="119.58" width="10.15" height="4.90" fill="#ffffff"/><path d="M1049.69,121.88 A3.89,3.89 0 0 1 1054.30,117.56" fill="none" stroke="#2a5fb8" stroke-width="1.60"/>
<path d="M1080.86,101.10 C1079.56,101.42 1075.14,101.72 1073.06,103.00 C1070.99,104.28 1069.38,106.95 1068.41,108.80 C1067.45,110.65 1067.12,112.10 1067.26,114.10 C1067.40,116.10 1068.05,119.00 1069.26,120.80 C1070.48,122.60 1072.63,124.02 1074.56,124.90 C1076.50,125.78 1079.81,125.90 1080.86,126.10 C1080.36,125.35 1078.72,123.60 1077.86,121.60 C1077.00,119.60 1075.96,116.22 1075.71,114.10 C1075.46,111.98 1075.50,111.07 1076.36,108.90 C1077.22,106.73 1080.11,102.40 1080.86,101.10Z" fill="none" stroke="#000" stroke-width="1.7" stroke-linejoin="round"/>
<circle cx="1076.02" cy="121.19" r="3.57" fill="#2d4f78" stroke="#2d4f78" stroke-width="2.80"/><circle cx="1081.55" cy="117.83" r="3.36" fill="#2d4f78" stroke="#2d4f78" stroke-width="2.80"/><circle cx="1085.89" cy="121.75" r="3.78" fill="#2d4f78" stroke="#2d4f78" stroke-width="2.80"/><rect x="1076.02" y="123.99" width="9.87" height="0.77" fill="#2d4f78" stroke="#2d4f78" stroke-width="2.80"/><circle cx="1076.02" cy="121.19" r="3.57" fill="#d3d3d3"/><circle cx="1081.55" cy="117.83" r="3.36" fill="#d3d3d3"/><circle cx="1085.89" cy="121.75" r="3.78" fill="#d3d3d3"/><rect x="1076.02" y="120.00" width="9.87" height="4.76" fill="#d3d3d3"/><path d="M1082.11,122.24 A3.78,3.78 0 0 1 1086.59,118.04" fill="none" stroke="#2d4f78" stroke-width="1.40"/>
<circle cx="127.5" cy="152.8" r="3.6" fill="none" stroke="#000" stroke-width="2.1"/>
<circle cx="144.8" cy="152.8" r="3.6" fill="none" stroke="#000" stroke-width="2.1"/>
<circle cx="162.0" cy="152.8" r="3.6" fill="none" stroke="#000" stroke-width="2.1"/>
<circle cx="179.3" cy="152.8" r="3.6" fill="none" stroke="#000" stroke-width="2.1"/>
<circle cx="196.6" cy="152.8" r="3.6" fill="none" stroke="#000" stroke-width="2.1"/>
<circle cx="213.8" cy="152.8" r="3.6" fill="none" stroke="#000" stroke-width="2.1"/>
<circle cx="231.1" cy="152.8" r="3.6" fill="none" stroke="#000" stroke-width="2.1"/>
<circle cx="248.4" cy="152.8" r="3.6" fill="none" stroke="#000" stroke-width="2.1"/>
<circle cx="265.6" cy="152.8" r="3.6" fill="none" stroke="#000" stroke-width="2.1"/>
<circle cx="282.9" cy="152.8" r="3.6" fill="none" stroke="#000" stroke-width="2.1"/>
<circle cx="300.2" cy="152.8" r="3.6" fill="none" stroke="#000" stroke-width="2.1"/>
<circle cx="317.5" cy="152.8" r="3.6" fill="none" stroke="#000" stroke-width="2.1"/>
<circle cx="334.7" cy="152.8" r="3.6" fill="none" stroke="#000" stroke-width="2.1"/>
<circle cx="352.0" cy="152.8" r="3.6" fill="none" stroke="#000" stroke-width="2.1"/>
<circle cx="369.3" cy="152.8" r="3.6" fill="none" stroke="#000" stroke-width="2.1"/>
<circle cx="386.5" cy="152.8" r="3.6" fill="none" stroke="#000" stroke-width="2.1"/>
<circle cx="403.8" cy="152.8" r="3.6" fill="none" stroke="#000" stroke-width="2.1"/>
<circle cx="421.1" cy="152.8" r="3.6" fill="none" stroke="#000" stroke-width="2.1"/>
<circle cx="438.3" cy="152.8" r="3.6" fill="none" stroke="#000" stroke-width="2.1"/>
<circle cx="455.6" cy="152.8" r="3.6" fill="none" stroke="#000" stroke-width="2.1"/>
<circle cx="472.9" cy="152.8" r="3.6" fill="none" stroke="#000" stroke-width="2.1"/>
<circle cx="490.1" cy="152.8" r="3.6" fill="none" stroke="#000" stroke-width="2.1"/>
<circle cx="507.4" cy="152.8" r="3.6" fill="none" stroke="#000" stroke-width="2.1"/>
<circle cx="524.7" cy="152.8" r="3.6" fill="none" stroke="#000" stroke-width="2.1"/>
<circle cx="542.0" cy="152.8" r="3.6" fill="none" stroke="#000" stroke-width="2.1"/>
<circle cx="559.2" cy="152.8" r="3.6" fill="none" stroke="#000" stroke-width="2.1"/>
<circle cx="576.5" cy="152.8" r="3.6" fill="none" stroke="#000" stroke-width="2.1"/>
<circle cx="593.8" cy="152.8" r="3.6" fill="none" stroke="#000" stroke-width="2.1"/>
<circle cx="611.0" cy="152.8" r="3.6" fill="none" stroke="#000" stroke-width="2.1"/>
<circle cx="628.3" cy="152.8" r="3.6" fill="none" stroke="#000" stroke-width="2.1"/>
<circle cx="645.6" cy="152.8" r="3.6" fill="none" stroke="#000" stroke-width="2.1"/>
<circle cx="662.8" cy="152.8" r="3.6" fill="none" stroke="#000" stroke-width="2.1"/>
<circle cx="680.1" cy="152.8" r="3.6" fill="none" stroke="#000" stroke-width="2.1"/>
<circle cx="697.4" cy="152.8" r="3.6" fill="none" stroke="#000" stroke-width="2.1"/>
<circle cx="714.6" cy="152.8" r="3.6" fill="none" stroke="#000" stroke-width="2.1"/>
<circle cx="731.9" cy="152.8" r="3.6" fill="none" stroke="#000" stroke-width="2.1"/>
<circle cx="749.2" cy="152.8" r="3.6" fill="none" stroke="#000" stroke-width="2.1"/>
<circle cx="766.4" cy="152.8" r="3.6" fill="none" stroke="#000" stroke-width="2.1"/>
<circle cx="783.7" cy="152.8" r="3.6" fill="none" stroke="#000" stroke-width="2.1"/>
<circle cx="801.0" cy="152.8" r="3.6" fill="none" stroke="#000" stroke-width="2.1"/>
<circle cx="818.2" cy="152.8" r="3.6" fill="none" stroke="#000" stroke-width="2.1"/>
<circle cx="835.5" cy="152.8" r="3.6" fill="none" stroke="#000" stroke-width="2.1"/>
<circle cx="852.8" cy="152.8" r="3.6" fill="none" stroke="#000" stroke-width="2.1"/>
<circle cx="870.1" cy="152.8" r="3.6" fill="none" stroke="#000" stroke-width="2.1"/>
<circle cx="887.3" cy="152.8" r="3.6" fill="none" stroke="#000" stroke-width="2.1"/>
<circle cx="904.6" cy="152.8" r="3.6" fill="none" stroke="#000" stroke-width="2.1"/>
<circle cx="921.9" cy="152.8" r="3.6" fill="none" stroke="#000" stroke-width="2.1"/>
<circle cx="939.1" cy="152.8" r="3.6" fill="none" stroke="#000" stroke-width="2.1"/>
<circle cx="956.4" cy="152.8" r="3.6" fill="none" stroke="#000" stroke-width="2.1"/>
<circle cx="973.7" cy="152.8" r="3.6" fill="none" stroke="#000" stroke-width="2.1"/>
<circle cx="990.9" cy="152.8" r="3.6" fill="none" stroke="#000" stroke-width="2.1"/>
<circle cx="1008.2" cy="152.8" r="3.6" fill="none" stroke="#000" stroke-width="2.1"/>
<circle cx="1025.5" cy="152.8" r="3.6" fill="none" stroke="#000" stroke-width="2.1"/>
<circle cx="1060.0" cy="152.8" r="3.6" fill="none" stroke="#000" stroke-width="2.1"/>
<circle cx="1077.3" cy="152.8" r="3.6" fill="none" stroke="#000" stroke-width="2.1"/>
<circle cx="1094.6" cy="152.8" r="3.6" fill="none" stroke="#000" stroke-width="2.1"/>
<path d="M1034.3,162 L1050.9,144 M1033.2,155.8 L1037.6,160" stroke="#000" stroke-width="1.8" fill="none"/>
<line x1="127.5" y1="97.5" x2="1095.0500000000002" y2="97.5" stroke="#111" stroke-width="1.1"/>
<line x1="1094.5" y1="97" x2="1094.5" y2="359.0" stroke="#111" stroke-width="1.1"/>
<line x1="127.0" y1="359.3" x2="1095.2500000000002" y2="359.3" stroke="#000" stroke-width="1.5"/>
<line x1="127.6" y1="97" x2="127.6" y2="359.0" stroke="#000" stroke-width="1.2"/>
<line x1="128.6" y1="97" x2="128.6" y2="359.0" stroke="#000" stroke-width="1.2" stroke-dasharray="4.7 1.5"/>
<line x1="144.8" y1="359.0" x2="144.8" y2="354.5" stroke="#000" stroke-width="1.2"/>
<line x1="162.0" y1="359.0" x2="162.0" y2="349.0" stroke="#000" stroke-width="1.2"/>
<line x1="179.3" y1="359.0" x2="179.3" y2="354.5" stroke="#000" stroke-width="1.2"/>
<line x1="196.6" y1="359.0" x2="196.6" y2="349.0" stroke="#000" stroke-width="1.2"/>
<line x1="213.8" y1="359.0" x2="213.8" y2="354.5" stroke="#000" stroke-width="1.2"/>
<line x1="231.1" y1="359.0" x2="231.1" y2="349.0" stroke="#000" stroke-width="1.2"/>
<line x1="248.4" y1="359.0" x2="248.4" y2="354.5" stroke="#000" stroke-width="1.2"/>
<line x1="282.9" y1="359.0" x2="282.9" y2="354.5" stroke="#000" stroke-width="1.2"/>
<line x1="300.2" y1="359.0" x2="300.2" y2="349.0" stroke="#000" stroke-width="1.2"/>
<line x1="317.5" y1="359.0" x2="317.5" y2="354.5" stroke="#000" stroke-width="1.2"/>
<line x1="334.7" y1="359.0" x2="334.7" y2="349.0" stroke="#000" stroke-width="1.2"/>
<line x1="352.0" y1="359.0" x2="352.0" y2="354.5" stroke="#000" stroke-width="1.2"/>
<line x1="369.3" y1="359.0" x2="369.3" y2="349.0" stroke="#000" stroke-width="1.2"/>
<line x1="386.5" y1="359.0" x2="386.5" y2="354.5" stroke="#000" stroke-width="1.2"/>
<line x1="421.1" y1="359.0" x2="421.1" y2="354.5" stroke="#000" stroke-width="1.2"/>
<line x1="438.3" y1="359.0" x2="438.3" y2="349.0" stroke="#000" stroke-width="1.2"/>
<line x1="455.6" y1="359.0" x2="455.6" y2="354.5" stroke="#000" stroke-width="1.2"/>
<line x1="472.9" y1="359.0" x2="472.9" y2="349.0" stroke="#000" stroke-width="1.2"/>
<line x1="490.1" y1="359.0" x2="490.1" y2="354.5" stroke="#000" stroke-width="1.2"/>
<line x1="507.4" y1="359.0" x2="507.4" y2="349.0" stroke="#000" stroke-width="1.2"/>
<line x1="524.7" y1="359.0" x2="524.7" y2="354.5" stroke="#000" stroke-width="1.2"/>
<line x1="559.2" y1="359.0" x2="559.2" y2="354.5" stroke="#000" stroke-width="1.2"/>
<line x1="576.5" y1="359.0" x2="576.5" y2="349.0" stroke="#000" stroke-width="1.2"/>
<line x1="593.8" y1="359.0" x2="593.8" y2="354.5" stroke="#000" stroke-width="1.2"/>
<line x1="611.0" y1="359.0" x2="611.0" y2="349.0" stroke="#000" stroke-width="1.2"/>
<line x1="628.3" y1="359.0" x2="628.3" y2="354.5" stroke="#000" stroke-width="1.2"/>
<line x1="645.6" y1="359.0" x2="645.6" y2="349.0" stroke="#000" stroke-width="1.2"/>
<line x1="662.8" y1="359.0" x2="662.8" y2="354.5" stroke="#000" stroke-width="1.2"/>
<line x1="697.4" y1="359.0" x2="697.4" y2="354.5" stroke="#000" stroke-width="1.2"/>
<line x1="714.6" y1="359.0" x2="714.6" y2="349.0" stroke="#000" stroke-width="1.2"/>
<line x1="731.9" y1="359.0" x2="731.9" y2="354.5" stroke="#000" stroke-width="1.2"/>
<line x1="749.2" y1="359.0" x2="749.2" y2="349.0" stroke="#000" stroke-width="1.2"/>
<line x1="766.4" y1="359.0" x2="766.4" y2="354.5" stroke="#000" stroke-width="1.2"/>
<line x1="783.7" y1="359.0" x2="783.7" y2="349.0" stroke="#000" stroke-width="1.2"/>
<line x1="801.0" y1="359.0" x2="801.0" y2="354.5" stroke="#000" stroke-width="1.2"/>
<line x1="835.5" y1="359.0" x2="835.5" y2="354.5" stroke="#000" stroke-width="1.2"/>
<line x1="852.8" y1="359.0" x2="852.8" y2="349.0" stroke="#000" stroke-width="1.2"/>
<line x1="870.1" y1="359.0" x2="870.1" y2="354.5" stroke="#000" stroke-width="1.2"/>
<line x1="887.3" y1="359.0" x2="887.3" y2="349.0" stroke="#000" stroke-width="1.2"/>
<line x1="904.6" y1="359.0" x2="904.6" y2="354.5" stroke="#000" stroke-width="1.2"/>
<line x1="921.9" y1="359.0" x2="921.9" y2="349.0" stroke="#000" stroke-width="1.2"/>
<line x1="939.1" y1="359.0" x2="939.1" y2="354.5" stroke="#000" stroke-width="1.2"/>
<line x1="973.7" y1="359.0" x2="973.7" y2="354.5" stroke="#000" stroke-width="1.2"/>
<line x1="990.9" y1="359.0" x2="990.9" y2="349.0" stroke="#000" stroke-width="1.2"/>
<line x1="1008.2" y1="359.0" x2="1008.2" y2="354.5" stroke="#000" stroke-width="1.2"/>
<line x1="1025.5" y1="359.0" x2="1025.5" y2="349.0" stroke="#000" stroke-width="1.2"/>
<line x1="1042.7" y1="359.0" x2="1042.7" y2="354.5" stroke="#000" stroke-width="1.2"/>
<line x1="1060.0" y1="359.0" x2="1060.0" y2="349.0" stroke="#000" stroke-width="1.2"/>
<line x1="1077.3" y1="359.0" x2="1077.3" y2="354.5" stroke="#000" stroke-width="1.2"/>
<text transform="translate(162.04,377.00) scale(1.06,1)" class="dv" font-size="17" text-anchor="middle" fill="#000">06</text>
<text transform="translate(196.57,377.00) scale(1.06,1)" class="dv" font-size="17" text-anchor="middle" fill="#000">12</text>
<text transform="translate(231.11,377.00) scale(1.06,1)" class="dv" font-size="17" text-anchor="middle" fill="#000">18</text>
<text transform="translate(300.19,377.00) scale(1.06,1)" class="dv" font-size="17" text-anchor="middle" fill="#000">06</text>
<text transform="translate(334.72,377.00) scale(1.06,1)" class="dv" font-size="17" text-anchor="middle" fill="#000">12</text>
<text transform="translate(369.26,377.00) scale(1.06,1)" class="dv" font-size="17" text-anchor="middle" fill="#000">18</text>
<text transform="translate(265.65,377.00) scale(1.06,1)" class="dv" font-size="17" text-anchor="middle" fill="#000">ned</text>
<text transform="translate(438.34,377.00) scale(1.06,1)" class="dv" font-size="17" text-anchor="middle" fill="#000">06</text>
<text transform="translate(472.88,377.00) scale(1.06,1)" class="dv" font-size="17" text-anchor="middle" fill="#000">12</text>
<text transform="translate(507.41,377.00) scale(1.06,1)" class="dv" font-size="17" text-anchor="middle" fill="#000">18</text>
<text transform="translate(403.80,377.00) scale(1.06,1)" class="dv" font-size="17" text-anchor="middle" fill="#000">pon</text>
<text transform="translate(576.49,377.00) scale(1.06,1)" class="dv" font-size="17" text-anchor="middle" fill="#000">06</text>
<text transform="translate(611.03,377.00) scale(1.06,1)" class="dv" font-size="17" text-anchor="middle" fill="#000">12</text>
<text transform="translate(645.56,377.00) scale(1.06,1)" class="dv" font-size="17" text-anchor="middle" fill="#000">18</text>
<text transform="translate(541.95,377.00) scale(1.06,1)" class="dv" font-size="17" text-anchor="middle" fill="#000">tor</text>
<text transform="translate(714.64,377.00) scale(1.06,1)" class="dv" font-size="17" text-anchor="middle" fill="#000">06</text>
<text transform="translate(749.18,377.00) scale(1.06,1)" class="dv" font-size="17" text-anchor="middle" fill="#000">12</text>
<text transform="translate(783.71,377.00) scale(1.06,1)" class="dv" font-size="17" text-anchor="middle" fill="#000">18</text>
<text transform="translate(680.10,377.00) scale(1.06,1)" class="dv" font-size="17" text-anchor="middle" fill="#000">sre</text>
<text transform="translate(852.79,377.00) scale(1.06,1)" class="dv" font-size="17" text-anchor="middle" fill="#000">06</text>
<text transform="translate(887.33,377.00) scale(1.06,1)" class="dv" font-size="17" text-anchor="middle" fill="#000">12</text>
<text transform="translate(921.86,377.00) scale(1.06,1)" class="dv" font-size="17" text-anchor="middle" fill="#000">18</text>
<text transform="translate(818.25,377.00) scale(1.06,1)" class="dv" font-size="17" text-anchor="middle" fill="#000">čet</text>
<text transform="translate(990.94,377.00) scale(1.06,1)" class="dv" font-size="17" text-anchor="middle" fill="#000">06</text>
<text transform="translate(1025.48,377.00) scale(1.06,1)" class="dv" font-size="17" text-anchor="middle" fill="#000">12</text>
<text transform="translate(1060.01,377.00) scale(1.06,1)" class="dv" font-size="17" text-anchor="middle" fill="#000">18</text>
<text transform="translate(956.40,377.00) scale(1.06,1)" class="dv" font-size="17" text-anchor="middle" fill="#000">pet</text>
<text transform="translate(123.30,366.00) scale(1.06,1)" class="dv" font-size="17" text-anchor="end" fill="#000">0</text>
<text transform="translate(123.30,328.60) scale(1.06,1)" class="dv" font-size="17" text-anchor="end" fill="#000">1</text>
<text transform="translate(123.30,291.20) scale(1.06,1)" class="dv" font-size="17" text-anchor="end" fill="#000">2</text>
<text transform="translate(123.30,253.80) scale(1.06,1)" class="dv" font-size="17" text-anchor="end" fill="#000">3</text>
<text transform="translate(123.30,216.40) scale(1.06,1)" class="dv" font-size="17" text-anchor="end" fill="#000">4</text>
<text transform="translate(123.30,179.00) scale(1.06,1)" class="dv" font-size="17" text-anchor="end" fill="#000">5</text>
<text transform="translate(46.30,365.80) scale(1.06,1)" class="dv" font-size="17" fill="#ff0000">-5</text>
<text transform="translate(46.30,328.40) scale(1.06,1)" class="dv" font-size="17" fill="#ff0000">-1</text>
<text transform="translate(46.30,291.00) scale(1.06,1)" class="dv" font-size="17" fill="#ff0000">3</text>
<text transform="translate(46.30,253.60) scale(1.06,1)" class="dv" font-size="17" fill="#ff0000">7</text>
<text transform="translate(46.30,216.20) scale(1.06,1)" class="dv" font-size="17" fill="#ff0000">11</text>
<text transform="translate(46.30,178.80) scale(1.06,1)" class="dv" font-size="17" fill="#ff0000">15</text>
<text transform="translate(1098.60,365.90) scale(1.06,1)" class="dv" font-size="17" fill="#000">0</text>
<text transform="translate(1098.60,328.50) scale(1.06,1)" class="dv" font-size="17" fill="#000">1.5</text>
<text transform="translate(1098.60,291.10) scale(1.06,1)" class="dv" font-size="17" fill="#000">3.5</text>
<text transform="translate(1098.60,253.70) scale(1.06,1)" class="dv" font-size="17" fill="#000">6.0</text>
<text transform="translate(1098.60,216.30) scale(1.06,1)" class="dv" font-size="17" fill="#000">9.0</text>
<text transform="translate(1098.60,178.90) scale(1.06,1)" class="dv" font-size="17" fill="#000">14</text>
<text transform="translate(100.70,263.70) scale(1.06,1) rotate(-90)" class="dv" font-size="19.35" text-anchor="middle" fill="#000">Padavine (mm/h)</text>
<text transform="translate(35.20,266.20) scale(1.06,1) rotate(-90)" class="dv" font-size="19.1" text-anchor="middle" fill="#ff0000">Temperatura (°C)</text>
<text transform="translate(1146.20,254.40) scale(1.06,1) rotate(-90)" class="dv" font-size="19.3" text-anchor="middle" fill="#000">Višina oblakov (km)</text>
<text transform="translate(196.57,68.70) scale(1.06,1)" class="dv" font-size="17.1" text-anchor="middle" fill="#cc0000">sobota</text>
<text transform="translate(196.57,90.00) scale(1.06,1)" class="dv" font-size="17.1" text-anchor="middle" fill="#cc0000">13.12</text>
<text transform="translate(334.72,68.70) scale(1.06,1)" class="dv" font-size="17.1" text-anchor="middle" fill="#cc0000">nedelja</text>
<text transform="translate(334.72,90.00) scale(1.06,1)" class="dv" font-size="17.1" text-anchor="middle" fill="#cc0000">14.12</text>
<text transform="translate(472.88,68.70) scale(1.06,1)" class="dv" font-size="17.1" text-anchor="middle" fill="#000">ponedeljek</text>
<text transform="translate(472.88,90.00) scale(1.06,1)" class="dv" font-size="17.1" text-anchor="middle" fill="#000">15.12</text>
<text transform="translate(611.03,68.70) scale(1.06,1)" class="dv" font-size="17.1" text-anchor="middle" fill="#000">torek</text>
<text transform="translate(611.03,90.00) scale(1.06,1)" class="dv" font-size="17.1" text-anchor="middle" fill="#000">16.12</text>
<text transform="translate(749.18,68.70) scale(1.06,1)" class="dv" font-size="17.1" text-anchor="middle" fill="#000">sreda</text>
<text transform="translate(749.18,90.00) scale(1.06,1)" class="dv" font-size="17.1" text-anchor="middle" fill="#000">17.12</text>
<text transform="translate(887.33,68.70) scale(1.06,1)" class="dv" font-size="17.1" text-anchor="middle" fill="#000">četrtek</text>
<text transform="translate(887.33,90.00) scale(1.06,1)" class="dv" font-size="17.1" text-anchor="middle" fill="#000">18.12</text>
<text transform="translate(1025.48,68.70) scale(1.06,1)" class="dv" font-size="17.1" text-anchor="middle" fill="#000">petek</text>
<text transform="translate(1025.48,90.00) scale(1.06,1)" class="dv" font-size="17.1" text-anchor="middle" fill="#000">19.12</text>
<rect x="127" y="390" width="32" height="11" fill="#0050ff"/>
<rect x="165.2" y="386.2" width="104.8" height="19.6" fill="#fff"/>
<text transform="translate(169.30,401.80) scale(1.06,1)" class="ls" font-size="18.5" fill="#000">Dež</text>
<rect x="278" y="390.2" width="32" height="10.8" fill="#10d8c6"/>
<rect x="310.4" y="386.3" width="109.6" height="19.3" fill="#fff"/>
<text transform="translate(318.80,401.90) scale(1.06,1)" class="ls" font-size="18.5" fill="#000">Možnost ploh</text>
<text transform="translate(499.20,401.70) scale(1.06,1)" class="ls" font-size="15.0" fill="#0000ff">© vreme.us &amp; vreme.pro</text>
<rect x="760" y="386" width="180" height="19.7" fill="#fff"/>
<text transform="translate(759.30,401.70) scale(1.06,1)" class="ls" font-size="18.4" fill="#000">Gostota oblakov (%)</text>
<rect x="949.20" y="385.1" width="29.15" height="13.3" fill="#d3d3d3"/>
<rect x="978.30" y="385.1" width="29.15" height="13.3" fill="#b0b0b0"/>
<rect x="1007.40" y="385.1" width="29.15" height="13.3" fill="#909090"/>
<rect x="1036.50" y="385.1" width="29.15" height="13.3" fill="#737373"/>
<rect x="1065.60" y="385.1" width="29.15" height="13.3" fill="#595959"/>
<rect x="949.2" y="385.1" width="145.5" height="13.3" fill="none" stroke="#000" stroke-width="1.2"/>
<text transform="translate(949.20,414.60) scale(1.0,1)" class="dv" font-size="15.8" text-anchor="middle" fill="#000">10</text>
<text transform="translate(978.30,414.60) scale(1.0,1)" class="dv" font-size="15.8" text-anchor="middle" fill="#000">25</text>
<text transform="translate(1007.40,414.60) scale(1.0,1)" class="dv" font-size="15.8" text-anchor="middle" fill="#000">50</text>
<text transform="translate(1036.50,414.60) scale(1.0,1)" class="dv" font-size="15.8" text-anchor="middle" fill="#000">75</text>
<text transform="translate(1065.60,414.60) scale(1.0,1)" class="dv" font-size="15.8" text-anchor="middle" fill="#000">90</text>
<text transform="translate(1094.70,414.60) scale(1.0,1)" class="dv" font-size="15.8" text-anchor="middle" fill="#000">100</text>
<text x="10" y="22" class="ls" font-size="16" fill="#0000ff">(kraj lahko izberete v meniju)</text>
<text x="399.8" y="37" class="ls" font-size="23.8" fill="#0000ff">Zagreb 7 dni</text>
<text x="860.5" y="21.4" class="ls" font-size="16" fill="#0000ff">Zadnja posodobitev: 13.12.2025 - 00:09</text>
</svg>
</body></html>
